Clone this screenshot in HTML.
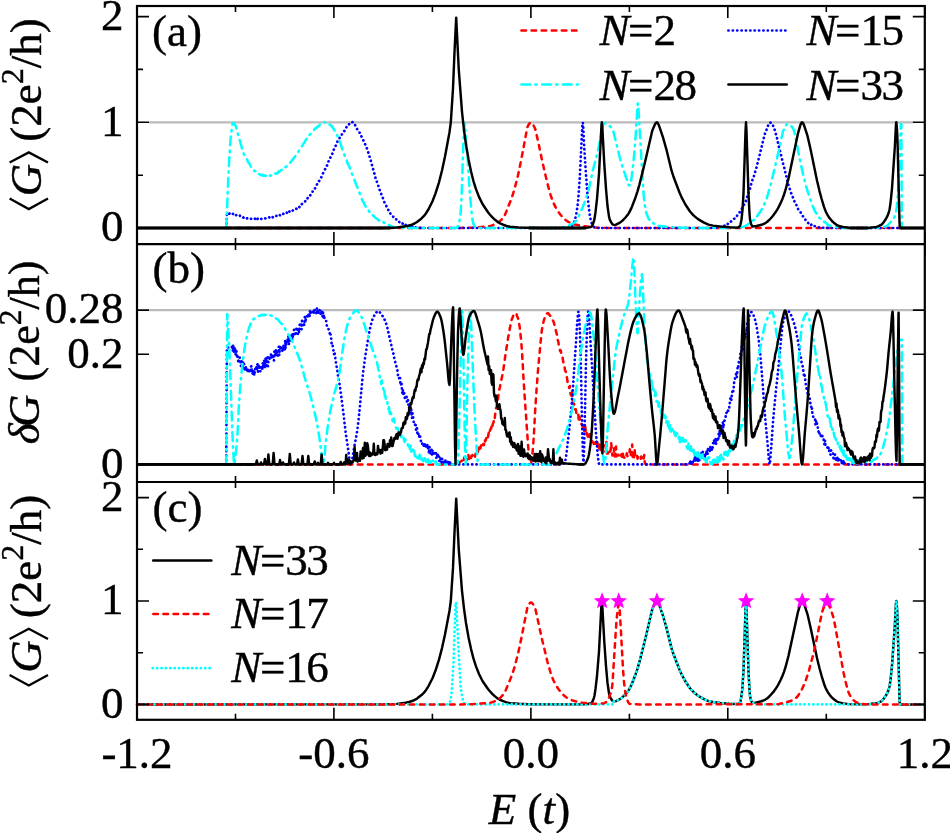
<!DOCTYPE html>
<html><head><meta charset="utf-8"><style>
html,body{margin:0;padding:0;background:#fff;}
svg{display:block;will-change:transform;}
text{font-family:"Liberation Serif",serif;stroke:#000;stroke-width:0.4px;}
</style></head><body>
<svg width="950" height="833" viewBox="0 0 950 833">
<rect width="950" height="833" fill="#fff"/>
<line x1="149.0" y1="122.3" x2="912.8" y2="122.3" stroke="#bbb" stroke-width="2.2"/>
<line x1="149.0" y1="310.1" x2="912.8" y2="310.1" stroke="#bbb" stroke-width="2.2"/>
<path d="M226.50,228.00L460.50,227.91L473.00,227.66L488.00,226.42L490.00,226.13L492.00,225.55L495.50,223.95L499.00,221.83L501.50,219.60L503.50,217.19L504.50,215.70L505.50,213.66L511.00,199.68L513.00,194.00L514.50,189.05L518.00,175.37L521.50,158.49L526.50,131.67L527.50,127.07L528.00,125.75L529.50,123.46L530.50,122.62L531.00,122.50L532.00,123.02L533.00,124.39L534.80,128.00L535.50,130.00L538.50,143.21L542.00,160.27L547.50,183.78L550.50,194.56L552.00,199.16L553.50,203.00L555.50,207.14L558.00,211.40L560.50,214.76L563.50,218.15L565.50,219.96L568.00,221.58L571.50,223.27L575.00,224.49L581.50,225.81L594.00,227.41L599.00,227.77L609.50,227.97L901.50,228.00" stroke="#ff0000" stroke-width="2.5" fill="none" stroke-dasharray="4.6,5.5" stroke-linecap="round" stroke-linejoin="round"/>
<path d="M226.40,228.00L226.90,215.00L227.40,213.36L227.60,213.20L227.90,213.25L228.40,213.46L228.90,213.67L229.00,214.14L229.60,213.36L230.20,214.13L230.80,214.01L231.40,214.32L232.00,213.70L232.60,213.79L233.20,214.01L233.80,214.97L234.40,214.32L235.00,214.74L235.60,215.30L236.20,215.14L236.80,214.75L237.40,215.17L238.00,215.01L238.60,215.42L239.20,215.65L239.80,215.56L240.40,216.68L241.00,216.96L241.60,216.76L242.20,217.10L242.80,217.26L243.40,217.52L244.00,218.05L244.60,217.75L245.20,217.40L245.80,218.11L246.40,218.20L247.00,218.48L247.60,218.38L248.20,218.07L248.80,217.85L249.40,218.38L250.00,218.66L250.60,218.86L251.20,218.86L251.80,218.85L252.40,218.91L253.00,218.56L253.60,218.78L254.20,218.85L254.80,218.46L255.40,219.49L256.00,218.54L256.60,219.51L257.20,219.31L257.80,218.66L258.40,218.78L259.00,218.61L259.60,218.97L260.20,218.27L260.80,218.63L261.40,218.93L262.00,218.52L262.60,218.63L263.20,218.33L263.80,218.47L264.40,218.64L265.00,218.35L265.60,218.51L266.20,218.36L266.80,217.90L267.40,217.72L268.00,217.94L268.60,217.83L269.20,217.33L269.80,217.57L270.40,217.20L271.00,217.74L271.60,216.80L272.20,216.89L272.80,217.24L273.40,216.70L274.00,216.33L274.60,216.16L275.20,216.57L275.80,216.37L276.40,215.84L277.00,215.69L277.60,215.77L278.20,216.00L278.80,215.61L279.40,214.78L280.00,215.24L280.60,215.41L281.20,214.64L281.80,214.96L282.40,214.79L283.00,213.85L283.60,213.79L284.20,213.44L284.80,213.53L285.40,213.52L286.00,213.40L286.60,212.41L287.20,213.14L287.80,211.97L288.40,212.68L289.00,211.96L289.60,211.28L290.20,210.99L290.80,210.89L291.40,210.53L292.00,211.32L292.60,210.69L293.20,210.06L293.80,209.64L294.40,209.90L295.00,209.44L295.60,208.90L296.20,208.73L296.80,208.91L297.40,207.77L298.00,208.23L298.60,207.91L299.20,207.39L299.80,206.07L300.40,206.29L301.00,205.63L301.60,204.36L302.20,203.88L302.80,203.57L303.40,203.03L304.00,202.68L304.60,201.99L305.20,201.31L305.80,200.22L306.40,200.34L307.00,199.54L307.60,198.12L308.20,198.09L308.80,197.23L309.40,195.95L310.00,195.75L310.60,194.75L311.20,193.88L311.80,192.79L312.40,191.59L313.00,191.69L313.60,190.79L314.20,189.48L314.80,188.62L315.40,187.81L316.00,185.93L316.60,185.14L317.20,183.94L317.80,183.87L318.40,182.25L319.00,181.07L319.60,180.40L320.20,178.95L320.80,177.86L321.40,177.16L322.00,175.61L322.60,174.18L323.20,173.00L323.80,172.02L324.40,170.55L325.00,169.41L325.60,168.31L326.20,166.76L326.80,165.82L327.40,164.82L328.00,163.47L328.60,161.20L329.20,160.59L329.80,158.85L330.40,157.66L331.00,155.77L331.60,155.41L332.20,153.93L332.80,152.65L333.40,150.37L334.00,149.25L334.60,147.99L335.20,146.61L335.80,145.69L336.40,144.15L337.00,143.18L337.60,141.01L338.20,140.04L338.80,138.76L339.40,138.46L340.00,137.39L340.60,136.25L341.20,134.85L341.80,134.61L342.40,133.67L343.00,132.97L343.60,131.78L344.20,131.12L344.80,130.48L345.40,129.52L346.00,128.50L346.60,126.66L347.20,126.61L347.80,125.28L348.40,124.67L349.00,124.24L349.60,123.90L350.20,123.38L350.80,122.41L351.40,122.75L352.00,122.34L352.60,122.07L353.20,123.41L353.80,123.64L354.40,124.14L355.00,124.85L355.60,126.21L356.20,127.32L356.80,128.64L357.40,129.47L358.00,130.22L358.60,131.05L359.20,131.54L359.80,133.23L360.40,133.81L361.00,135.22L361.60,136.91L362.20,137.88L362.80,138.72L363.40,140.54L364.00,141.51L364.60,143.39L365.20,144.31L365.80,146.11L366.40,147.35L367.00,148.62L367.60,150.24L368.20,152.22L368.80,154.76L369.40,156.14L370.00,158.32L370.60,159.92L371.20,162.31L371.80,164.57L372.40,166.86L373.00,168.74L373.60,170.66L374.20,172.87L374.80,174.82L375.40,177.60L376.00,179.40L376.60,181.18L377.20,182.45L377.80,184.01L378.40,186.34L379.00,187.68L379.60,189.88L380.20,190.85L380.80,192.81L381.40,194.72L382.00,195.92L382.60,197.61L383.20,198.75L383.80,200.35L384.40,202.29L385.00,203.66L385.60,204.90L386.20,205.74L386.80,207.36L387.40,208.33L388.00,208.97L388.60,210.82L389.20,211.01L389.80,212.20L390.40,213.55L391.00,214.11L391.60,215.22L392.20,216.00L392.80,216.22L393.40,216.93L394.00,217.77L394.60,218.59L395.20,218.56L395.80,219.42L396.40,219.30L397.00,219.91L397.60,220.21L398.20,220.83L398.80,221.16L399.40,222.23L400.00,222.04L400.60,222.12L401.20,222.49L401.80,223.64L402.40,223.34L403.00,224.10L403.60,223.80L404.20,224.05L404.80,224.85L405.40,224.44L406.00,225.41L406.60,225.28L407.20,224.93L407.80,225.76L408.40,225.87L409.00,225.83L409.60,226.33L410.20,225.88L410.80,226.58L411.40,227.16L412.00,226.25L412.60,227.14L413.20,227.03L413.80,227.56L414.40,226.94L415.40,227.34L415.90,227.40L416.40,227.45L416.90,227.51L417.40,227.56L417.90,227.61L418.40,227.65L418.90,227.70L419.40,227.74L419.90,227.78L420.40,227.82L420.90,227.85L421.40,227.89L421.90,227.91L422.40,227.94L422.90,227.96L423.40,227.98L423.90,227.99L424.40,228.00L424.90,228.00L425.00,228.00L425.40,228.00L425.90,228.00L426.40,228.00L426.90,228.00L427.40,228.00L427.90,228.00L428.40,228.00L428.90,228.00L429.40,228.00L429.90,228.00L430.40,228.00L430.90,228.00L431.40,228.00L431.90,228.00L432.40,228.00L432.90,228.00L433.40,228.00L433.90,228.00L434.40,228.00L434.90,228.00L435.40,228.00L435.90,228.00L436.40,228.00L436.90,228.00L437.40,228.00L437.90,228.00L438.40,228.00L438.90,228.00L439.40,228.00L439.90,228.00L440.40,228.00L440.90,228.00L441.40,228.00L441.90,228.00L442.40,228.00L442.90,228.00L443.40,228.00L443.90,228.00L444.40,228.00L444.90,228.00L445.40,228.00L445.90,228.00L446.40,228.00L446.90,228.00L447.40,228.00L447.90,228.00L448.40,228.00L448.90,228.00L449.40,228.00L449.90,228.00L450.40,228.00L450.90,228.00L451.40,228.00L451.90,228.00L452.40,228.00L452.90,228.00L453.40,228.00L453.90,228.00L454.40,228.00L454.90,228.00L455.40,228.00L455.90,228.00L456.40,228.00L456.90,228.00L457.40,228.00L457.90,228.00L458.40,228.00L458.90,228.00L459.40,228.00L459.90,228.00L460.40,228.00L460.90,228.00L461.40,228.00L461.90,228.00L462.40,228.00L462.90,228.00L463.40,228.00L463.90,228.00L464.40,228.00L464.90,228.00L465.40,228.00L465.90,228.00L466.40,228.00L466.90,228.00L467.40,228.00L467.90,228.00L468.40,228.00L468.90,228.00L469.40,228.00L469.90,228.00L470.40,228.00L470.90,228.00L471.40,228.00L471.90,228.00L472.40,228.00L472.90,228.00L473.40,228.00L473.90,228.00L474.40,228.00L474.90,228.00L475.40,228.00L475.90,228.00L476.40,228.00L476.90,228.00L477.40,228.00L477.90,228.00L478.40,228.00L478.90,228.00L479.40,228.00L479.90,228.00L480.40,228.00L480.90,228.00L481.40,228.00L481.90,228.00L482.40,228.00L482.90,228.00L483.40,228.00L483.90,228.00L484.40,228.00L484.90,228.00L485.40,228.00L485.90,228.00L486.40,228.00L486.90,228.00L487.40,228.00L487.90,228.00L488.40,228.00L488.90,228.00L489.40,228.00L489.90,228.00L490.40,228.00L490.90,228.00L491.40,228.00L491.90,228.00L492.40,228.00L492.90,228.00L493.40,228.00L493.90,228.00L494.40,228.00L494.90,228.00L495.40,228.00L495.90,228.00L496.40,228.00L496.90,228.00L497.40,228.00L497.90,228.00L498.40,228.00L498.90,228.00L499.40,228.00L499.90,228.00L500.40,228.00L500.90,228.00L501.40,228.00L501.90,228.00L502.40,228.00L502.90,228.00L503.40,228.00L503.90,228.00L504.40,228.00L504.90,228.00L505.40,228.00L505.90,228.00L506.40,228.00L506.90,228.00L507.40,228.00L507.90,228.00L508.40,228.00L508.90,228.00L509.40,228.00L509.90,228.00L510.40,228.00L510.90,228.00L511.40,228.00L511.90,228.00L512.40,228.00L512.90,228.00L513.40,228.00L513.90,228.00L514.40,228.00L514.90,228.00L515.40,228.00L515.90,228.00L516.40,228.00L516.90,228.00L517.40,228.00L517.90,228.00L518.40,228.00L518.90,228.00L519.40,228.00L519.90,228.00L520.40,228.00L520.90,228.00L521.40,228.00L521.90,228.00L522.40,228.00L522.90,228.00L523.40,228.00L523.90,228.00L524.40,228.00L524.90,228.00L525.40,228.00L525.90,228.00L526.40,228.00L526.90,228.00L527.40,228.00L527.90,228.00L528.40,228.00L528.90,228.00L529.40,228.00L529.90,228.00L530.40,228.00L530.90,228.00L531.40,228.00L531.90,228.00L532.40,228.00L532.90,228.00L533.40,228.00L533.90,228.00L534.40,228.00L534.90,228.00L535.40,228.00L535.90,228.00L536.40,228.00L536.90,228.00L537.40,228.00L537.90,228.00L538.40,228.00L538.90,228.00L539.40,228.00L539.90,228.00L540.40,228.00L540.90,228.00L541.40,228.00L541.90,228.00L542.40,228.00L542.90,228.00L543.40,228.00L543.90,228.00L544.40,228.00L544.90,228.00L545.40,228.00L545.90,228.00L546.40,228.00L546.90,228.00L547.40,228.00L547.90,228.00L548.40,228.00L548.90,228.00L549.40,228.00L549.90,228.00L550.40,228.00L550.90,228.00L551.40,228.00L551.90,228.00L552.40,228.00L552.90,228.00L553.40,228.00L553.90,228.00L554.40,228.00L554.90,228.00L555.40,228.00L555.90,228.00L556.40,228.00L556.90,228.00L557.40,228.00L557.90,228.00L558.40,228.00L558.90,228.00L559.40,228.00L559.90,228.00L560.40,228.00L560.90,228.00L561.40,228.00L561.90,228.00L562.40,228.00L562.90,228.00L563.40,228.00L563.90,228.00L564.40,228.00L564.90,228.00L565.00,228.00L565.40,228.00L565.90,227.99L566.40,227.97L566.90,227.94L567.40,227.90L567.90,227.86L568.40,227.81L568.90,227.75L569.40,227.69L569.90,227.62L570.00,227.60L570.40,227.48L570.90,227.16L571.40,226.68L571.90,226.06L572.40,225.30L572.90,224.42L573.40,223.44L573.90,222.37L574.40,221.23L574.50,221.00L574.90,219.90L575.40,218.11L575.90,215.86L576.40,213.20L576.90,210.15L577.40,206.73L577.50,206.00L577.90,202.56L578.40,197.00L578.90,190.35L579.40,182.95L579.75,177.50L579.90,174.99L580.40,165.10L580.90,154.39L581.25,147.50L581.40,144.59L581.90,133.69L582.40,124.81L582.75,122.50L582.90,122.98L583.40,129.96L583.90,140.75L584.25,147.50L584.40,149.91L584.90,157.94L585.40,165.82L585.90,173.29L586.20,177.50L586.40,180.23L586.90,186.98L587.40,193.40L587.90,199.13L588.30,203.00L588.40,203.87L588.90,208.11L589.40,212.07L589.90,215.59L590.40,218.50L590.90,220.67L591.00,221.00L591.40,222.20L591.90,223.58L592.40,224.78L592.90,225.76L593.40,226.50L593.90,226.95L594.00,227.00L594.40,227.18L594.90,227.38L595.40,227.55L595.90,227.70L596.40,227.83L596.90,227.92L597.40,227.97L597.90,228.00L598.00,228.00L598.40,228.00L598.90,228.00L599.40,228.00L599.90,228.00L600.40,228.00L600.90,228.00L601.40,228.00L601.90,228.00L602.40,228.00L602.90,228.00L603.40,228.00L603.90,228.00L604.40,228.00L604.90,228.00L605.40,228.00L605.90,228.00L606.40,228.00L606.90,228.00L607.40,228.00L607.90,228.00L608.40,228.00L608.90,228.00L609.40,228.00L609.90,228.00L610.40,228.00L610.90,228.00L611.40,228.00L611.90,228.00L612.40,228.00L612.90,228.00L613.40,228.00L613.90,228.00L614.40,228.00L614.90,228.00L615.40,228.00L615.90,228.00L616.40,228.00L616.90,228.00L617.40,228.00L617.90,228.00L618.40,228.00L618.90,228.00L619.40,228.00L619.90,228.00L620.40,228.00L620.90,228.00L621.40,228.00L621.90,228.00L622.40,228.00L622.90,228.00L623.40,228.00L623.90,228.00L624.40,228.00L624.90,228.00L625.40,228.00L625.90,228.00L626.40,228.00L626.90,228.00L627.40,228.00L627.90,228.00L628.40,228.00L628.90,228.00L629.40,228.00L629.90,228.00L630.40,228.00L630.90,228.00L631.40,228.00L631.90,228.00L632.40,228.00L632.90,228.00L633.40,228.00L633.90,228.00L634.40,228.00L634.90,228.00L635.40,228.00L635.90,228.00L636.40,228.00L636.90,228.00L637.40,228.00L637.90,228.00L638.40,228.00L638.90,228.00L639.40,228.00L639.90,228.00L640.40,228.00L640.90,228.00L641.40,228.00L641.90,228.00L642.40,228.00L642.90,228.00L643.40,228.00L643.90,228.00L644.40,228.00L644.90,228.00L645.40,228.00L645.90,228.00L646.40,228.00L646.90,228.00L647.40,228.00L647.90,228.00L648.40,228.00L648.90,228.00L649.40,228.00L649.90,228.00L650.40,228.00L650.90,228.00L651.40,228.00L651.90,228.00L652.40,228.00L652.90,228.00L653.40,228.00L653.90,228.00L654.40,228.00L654.90,228.00L655.40,228.00L655.90,228.00L656.40,228.00L656.90,228.00L657.40,228.00L657.90,228.00L658.40,228.00L658.90,228.00L659.40,228.00L659.90,228.00L660.40,228.00L660.90,228.00L661.40,228.00L661.90,228.00L662.40,228.00L662.90,228.00L663.40,228.00L663.90,228.00L664.40,228.00L664.90,228.00L665.40,228.00L665.90,228.00L666.40,228.00L666.90,228.00L667.40,228.00L667.90,228.00L668.40,228.00L668.90,228.00L669.40,228.00L669.90,228.00L670.40,228.00L670.90,228.00L671.40,228.00L671.90,228.00L672.40,228.00L672.90,228.00L673.40,228.00L673.90,228.00L674.40,228.00L674.90,228.00L675.40,228.00L675.90,228.00L676.40,228.00L676.90,228.00L677.40,228.00L677.90,228.00L678.40,228.00L678.90,228.00L679.40,228.00L679.90,228.00L680.40,228.00L680.90,228.00L681.40,228.00L681.90,228.00L682.40,228.00L682.90,228.00L683.40,228.00L683.90,228.00L684.40,228.00L684.90,228.00L685.40,228.00L685.90,228.00L686.40,228.00L686.90,228.00L687.40,228.00L687.90,228.00L688.40,228.00L688.90,228.00L689.40,228.00L689.90,228.00L690.40,228.00L690.90,228.00L691.40,228.00L691.90,228.00L692.40,228.00L692.90,228.00L693.40,228.00L693.90,228.00L694.40,228.00L694.90,228.00L695.40,228.00L695.90,228.00L696.40,228.00L696.90,228.00L697.40,228.00L697.90,228.00L698.40,228.00L698.90,228.00L699.40,228.00L699.90,228.00L700.40,228.00L700.90,228.00L701.40,228.00L701.90,228.00L702.40,228.00L702.90,228.00L703.40,228.00L703.90,228.00L704.40,228.00L704.90,228.00L705.40,228.00L705.90,228.00L706.40,228.00L706.90,228.00L707.40,228.00L707.90,228.00L708.40,228.00L708.90,228.00L709.40,228.00L709.90,228.00L710.40,228.00L710.90,228.00L711.40,228.00L711.90,228.00L712.00,228.00L712.40,228.00L712.90,227.98L713.40,227.96L713.90,227.93L714.40,227.90L714.90,227.85L715.40,227.80L715.90,227.74L716.40,227.67L716.90,227.60L717.40,227.52L717.90,227.43L718.40,227.34L718.90,227.25L719.40,227.15L719.90,227.05L720.40,226.95L720.90,226.84L721.40,226.73L721.90,226.62L722.00,226.60L722.40,226.50L722.90,226.36L723.40,226.19L723.90,226.00L724.40,225.79L724.90,225.57L725.00,224.99L725.60,224.68L726.20,224.81L726.80,224.19L727.40,224.26L728.00,223.71L728.60,223.23L729.20,223.36L729.80,222.19L730.40,221.67L731.00,221.48L731.60,220.96L732.20,220.56L732.80,219.99L733.40,219.14L734.00,218.78L734.60,218.60L735.20,217.17L735.80,216.73L736.40,216.11L737.00,215.87L737.60,214.67L738.20,214.05L738.80,213.08L739.40,212.36L740.00,212.15L740.60,211.32L741.20,210.15L741.80,208.81L742.40,207.62L743.00,206.69L743.60,205.49L744.20,204.43L744.80,202.88L745.40,202.26L746.00,200.63L746.60,199.27L747.20,196.77L747.80,195.20L748.40,193.43L749.00,191.14L749.60,189.71L750.20,188.09L750.80,185.42L751.40,183.53L752.00,181.34L752.60,179.58L753.20,178.44L753.80,176.51L754.40,174.64L755.00,172.34L755.60,170.86L756.20,168.74L756.80,165.88L757.40,163.85L758.00,161.61L758.60,159.20L759.20,156.87L759.80,154.40L760.40,151.32L761.00,149.65L761.60,146.89L762.20,144.76L762.80,141.91L763.40,140.33L764.00,137.08L764.60,135.11L765.20,132.82L765.80,131.47L766.40,130.39L767.00,127.89L767.60,127.14L768.20,125.03L768.80,124.13L769.40,122.79L770.00,122.73L770.60,122.71L771.20,123.19L771.80,123.14L772.40,124.45L773.00,125.65L773.60,127.25L774.20,128.83L774.80,130.14L775.40,132.37L776.00,134.66L776.60,136.25L777.20,138.90L777.80,142.04L778.40,144.57L779.00,147.10L779.60,149.65L780.20,151.40L780.80,154.41L781.40,156.32L782.00,159.21L782.60,161.35L783.20,164.28L783.80,166.49L784.40,168.14L785.00,170.64L785.60,174.17L786.20,175.82L786.80,178.73L787.40,180.60L788.00,183.04L788.60,185.49L789.20,186.77L789.80,188.95L790.40,190.62L791.00,192.63L791.60,194.43L792.20,195.60L792.80,197.10L793.40,198.54L794.00,199.95L794.60,201.98L795.20,203.01L795.80,204.27L796.40,205.04L797.00,206.16L797.60,208.11L798.20,209.34L798.80,210.13L799.40,210.79L800.00,211.85L800.60,212.49L801.20,213.53L801.80,215.24L802.40,215.96L803.00,216.33L803.60,217.31L804.20,218.50L804.80,219.22L805.40,219.66L806.00,220.38L806.60,221.23L807.20,221.44L807.80,222.24L808.40,223.31L809.00,223.52L809.60,224.25L810.20,223.98L810.80,225.02L811.40,224.75L812.00,224.79L812.60,225.87L813.20,225.94L813.80,225.53L814.40,225.98L815.40,226.53L815.90,226.69L816.40,226.83L816.90,226.96L817.40,227.08L817.90,227.19L818.40,227.29L818.90,227.37L819.40,227.44L819.90,227.49L820.00,227.50L820.40,227.53L820.90,227.58L821.40,227.62L821.90,227.66L822.40,227.69L822.90,227.73L823.40,227.76L823.90,227.80L824.40,227.83L824.90,227.85L825.40,227.88L825.90,227.90L826.40,227.92L826.90,227.94L827.40,227.96L827.90,227.97L828.40,227.98L828.90,227.99L829.40,228.00L829.90,228.00L830.00,228.00L830.40,228.00L830.90,228.00L831.40,228.00L831.90,228.00L832.40,228.00L832.90,228.00L833.40,228.00L833.90,228.00L834.40,228.00L834.90,228.00L835.40,228.00L835.90,228.00L836.40,228.00L836.90,228.00L837.40,228.00L837.90,228.00L838.40,228.00L838.90,228.00L839.40,228.00L839.90,228.00L840.40,228.00L840.90,228.00L841.40,228.00L841.90,228.00L842.40,228.00L842.90,228.00L843.40,228.00L843.90,228.00L844.40,228.00L844.90,228.00L845.40,228.00L845.90,228.00L846.40,228.00L846.90,228.00L847.40,228.00L847.90,228.00L848.40,228.00L848.90,228.00L849.40,228.00L849.90,228.00L850.40,228.00L850.90,228.00L851.40,228.00L851.90,228.00L852.40,228.00L852.90,228.00L853.40,228.00L853.90,228.00L854.40,228.00L854.90,228.00L855.40,228.00L855.90,228.00L856.40,228.00L856.90,228.00L857.40,228.00L857.90,228.00L858.40,228.00L858.90,228.00L859.40,228.00L859.90,228.00L860.40,228.00L860.90,228.00L861.40,228.00L861.90,228.00L862.40,228.00L862.90,228.00L863.40,228.00L863.90,228.00L864.40,228.00L864.90,228.00L865.40,228.00L865.90,228.00L866.40,228.00L866.90,228.00L867.40,228.00L867.90,228.00L868.40,228.00L868.90,228.00L869.40,228.00L869.90,228.00L870.40,228.00L870.90,228.00L871.40,228.00L871.90,228.00L872.40,228.00L872.90,228.00L873.40,228.00L873.90,228.00L874.40,228.00L874.90,228.00L875.40,228.00L875.90,228.00L876.40,228.00L876.90,228.00L877.40,228.00L877.90,228.00L878.40,228.00L878.90,228.00L879.40,228.00L879.90,228.00L880.40,228.00L880.90,228.00L881.40,228.00L881.90,228.00L882.40,228.00L882.90,228.00L883.40,228.00L883.90,228.00L884.40,228.00L884.90,228.00L885.40,228.00L885.90,228.00L886.40,228.00L886.90,228.00L887.40,228.00L887.90,228.00L888.40,228.00L888.90,228.00L889.40,228.00L889.90,228.00L890.40,228.00L890.90,228.00L891.40,228.00L891.90,228.00L892.40,228.00L892.90,228.00L893.40,228.00L893.90,228.00L894.40,228.00L894.90,228.00L895.40,228.00L895.90,228.00L896.40,228.00L896.90,228.00L897.40,228.00L897.90,228.00L898.40,228.00L898.90,228.00L899.40,228.00L899.90,228.00L900.40,228.00L900.90,228.00L901.40,228.00L901.50,228.00" stroke="#0000ff" stroke-width="2.7" fill="none" stroke-dasharray="0.2,4.17" stroke-linecap="round" stroke-linejoin="round"/>
<path d="M226.30,228.00L226.80,215.00L227.20,205.00L227.30,202.53L227.80,190.03L228.30,178.03L228.60,171.50L228.80,167.48L229.30,158.23L229.60,153.20L229.80,149.97L230.30,142.44L230.60,138.80L230.80,136.85L231.30,132.84L231.40,132.10L231.80,128.78L232.30,124.80L232.80,123.00L233.30,123.12L233.80,123.44L234.30,123.93L234.80,124.55L235.30,125.25L235.40,125.40L235.80,126.27L236.00,126.60L236.60,129.25L237.20,131.58L237.80,133.82L238.40,136.05L239.00,138.09L239.60,139.89L240.20,141.59L240.80,144.11L241.40,146.25L242.00,148.44L242.60,150.62L243.20,152.25L243.80,153.99L244.40,154.77L245.00,156.12L245.60,157.14L246.20,158.03L246.80,159.03L247.40,160.29L248.00,161.69L248.60,162.98L249.20,163.05L249.80,164.45L250.40,165.74L251.00,166.84L251.60,166.99L252.20,167.81L252.80,168.74L253.40,169.68L254.00,170.37L254.60,171.14L255.20,171.11L255.80,172.46L256.40,172.62L257.00,172.88L257.60,173.67L258.20,173.43L258.80,173.60L259.40,174.33L260.00,174.66L260.60,174.82L261.20,175.19L261.80,174.64L262.40,175.61L263.00,175.07L263.60,175.51L264.20,175.24L264.80,175.58L265.40,176.08L266.00,175.54L266.60,176.24L267.20,175.78L267.80,176.23L268.40,175.78L269.00,175.62L269.60,175.97L270.20,175.33L270.80,175.72L271.40,175.03L272.00,174.96L272.60,175.17L273.20,174.62L273.80,174.79L274.40,173.96L275.00,173.70L275.60,173.33L276.20,173.75L276.80,173.39L277.40,173.03L278.00,172.81L278.60,171.56L279.20,171.99L279.80,170.85L280.40,170.60L281.00,170.07L281.60,169.75L282.20,169.21L282.80,169.64L283.40,168.53L284.00,168.37L284.60,167.99L285.20,167.20L285.80,166.84L286.40,166.46L287.00,166.18L287.60,165.16L288.20,164.41L288.80,164.35L289.40,163.39L290.00,162.71L290.60,162.30L291.20,161.59L291.80,160.56L292.40,159.79L293.00,159.45L293.60,158.58L294.20,157.15L294.80,157.00L295.40,155.72L296.00,154.91L296.60,154.56L297.20,153.71L297.80,153.07L298.40,151.90L299.00,150.53L299.60,149.46L300.20,148.61L300.80,147.57L301.40,146.83L302.00,146.17L302.60,145.33L303.20,143.95L303.80,143.25L304.40,142.62L305.00,141.34L305.60,140.29L306.20,139.38L306.80,138.44L307.40,137.77L308.00,137.53L308.60,136.44L309.20,135.13L309.80,134.63L310.40,134.02L311.00,133.23L311.60,132.15L312.20,131.65L312.80,131.03L313.40,130.46L314.00,129.97L314.60,129.02L315.20,128.68L315.80,128.12L316.40,128.13L317.00,126.77L317.60,126.86L318.20,126.24L318.80,126.13L319.40,125.55L320.00,124.17L320.60,123.68L321.20,123.75L321.80,122.95L322.40,122.67L323.00,122.47L323.60,122.50L324.20,122.25L324.80,121.97L325.40,122.67L326.00,122.77L326.60,122.53L327.20,122.53L327.80,122.91L328.40,122.93L329.00,123.57L329.60,124.67L330.20,124.78L330.80,124.97L331.40,126.36L332.00,126.17L332.60,126.98L333.20,128.40L333.80,129.12L334.40,130.46L335.00,131.09L335.60,132.85L336.20,133.87L336.80,134.65L337.40,135.82L338.00,137.04L338.60,138.73L339.20,139.31L339.80,141.30L340.40,143.09L341.00,145.02L341.60,146.89L342.20,148.95L342.80,150.16L343.40,151.89L344.00,153.88L344.60,155.23L345.20,157.15L345.80,159.11L346.40,159.91L347.00,161.18L347.60,163.45L348.20,164.15L348.80,165.54L349.40,166.83L350.00,168.36L350.60,170.62L351.20,171.84L351.80,173.24L352.40,174.46L353.00,176.19L353.60,177.37L354.20,179.28L354.80,180.61L355.40,182.66L356.00,183.96L356.60,185.87L357.20,186.53L357.80,188.76L358.40,190.33L359.00,191.54L359.60,193.17L360.20,195.09L360.80,196.23L361.40,198.05L362.00,199.27L362.60,200.93L363.20,201.53L363.80,202.78L364.40,204.15L365.00,204.95L365.60,206.44L366.20,207.00L366.80,208.48L367.40,208.84L368.00,210.14L368.60,210.38L369.20,211.69L369.80,211.81L370.40,213.38L371.00,213.84L371.60,214.64L372.20,214.44L372.80,215.21L373.40,215.88L374.00,216.30L374.60,217.09L375.20,217.58L375.80,217.96L376.40,218.31L377.00,218.77L377.60,219.07L378.20,220.15L378.80,220.12L379.40,220.46L380.00,220.17L380.60,220.75L381.20,221.36L381.80,221.02L382.40,221.27L383.00,221.75L383.60,222.57L384.20,222.83L384.80,222.67L385.40,223.45L386.00,223.84L386.60,224.28L387.20,224.59L387.80,224.67L388.40,225.31L389.00,224.85L389.60,225.20L390.30,225.89L390.80,226.10L391.30,226.28L391.80,226.44L392.00,226.50L392.30,226.58L392.80,226.71L393.30,226.85L393.80,226.97L394.30,227.10L394.80,227.21L395.30,227.32L395.80,227.43L396.30,227.52L396.80,227.60L397.30,227.67L397.80,227.73L398.30,227.77L398.80,227.79L399.00,227.80L399.30,227.81L399.80,227.82L400.30,227.83L400.80,227.84L401.30,227.85L401.80,227.85L402.30,227.86L402.80,227.87L403.30,227.88L403.80,227.89L404.30,227.89L404.80,227.90L405.30,227.91L405.80,227.92L406.30,227.92L406.80,227.93L407.30,227.93L407.80,227.94L408.30,227.94L408.80,227.95L409.30,227.95L409.80,227.96L410.30,227.96L410.80,227.97L411.30,227.97L411.80,227.97L412.30,227.98L412.80,227.98L413.30,227.98L413.80,227.99L414.30,227.99L414.80,227.99L415.30,227.99L415.80,227.99L416.30,228.00L416.80,228.00L417.30,228.00L417.80,228.00L418.30,228.00L418.80,228.00L419.30,228.00L419.80,228.00L420.00,228.00L420.30,228.00L420.80,228.00L421.30,228.00L421.80,228.00L422.30,228.00L422.80,228.00L423.30,228.00L423.80,228.00L424.30,228.00L424.80,228.00L425.30,228.00L425.80,228.00L426.30,228.00L426.80,228.00L427.30,228.00L427.80,228.00L428.30,228.00L428.80,228.00L429.30,228.00L429.80,228.00L430.30,228.00L430.80,228.00L431.30,228.00L431.80,228.00L432.30,228.00L432.80,228.00L433.30,228.00L433.80,228.00L434.30,228.00L434.80,228.00L435.30,228.00L435.80,228.00L436.30,228.00L436.80,228.00L437.30,228.00L437.80,228.00L438.30,228.00L438.80,228.00L439.30,228.00L439.80,228.00L440.30,228.00L440.80,228.00L441.30,228.00L441.80,228.00L442.30,228.00L442.80,228.00L443.30,228.00L443.80,228.00L444.30,228.00L444.80,228.00L445.30,228.00L445.80,228.00L446.30,228.00L446.80,228.00L447.30,228.00L447.80,228.00L448.30,228.00L448.80,228.00L449.30,228.00L449.80,228.00L450.30,228.00L450.80,228.00L451.30,228.00L451.80,228.00L452.00,228.00L452.30,228.00L452.80,227.99L453.30,227.99L453.80,227.97L454.30,227.96L454.80,227.93L455.30,227.91L455.80,227.88L456.30,227.84L456.80,227.80L457.30,227.50L457.80,226.70L458.30,225.44L458.80,223.73L459.30,221.60L459.80,219.08L460.30,216.20L460.80,210.50L461.30,200.81L461.80,189.05L462.10,181.80L462.30,176.36L462.80,159.42L463.30,144.29L463.40,142.20L463.80,134.68L464.30,126.81L464.80,123.50L465.30,128.22L465.80,137.08L466.00,140.00L466.30,143.45L466.80,148.68L467.30,154.17L467.40,155.40L467.80,160.96L468.30,168.96L468.80,177.43L469.30,185.59L469.80,192.65L470.00,195.00L470.30,198.29L470.80,203.74L471.30,208.97L471.80,213.77L472.30,217.94L472.80,221.26L473.30,223.53L473.50,224.10L473.80,224.77L474.30,225.76L474.80,226.58L475.30,227.18L475.80,227.54L476.00,227.60L476.30,227.66L476.80,227.74L477.30,227.82L477.80,227.88L478.30,227.93L478.80,227.96L479.30,227.99L479.80,228.00L480.00,228.00L480.30,228.00L480.80,228.00L481.30,228.00L481.80,228.00L482.30,228.00L482.80,228.00L483.30,228.00L483.80,228.00L484.30,228.00L484.80,228.00L485.30,228.00L485.80,228.00L486.30,228.00L486.80,228.00L487.30,228.00L487.80,228.00L488.30,228.00L488.80,228.00L489.30,228.00L489.80,228.00L490.30,228.00L490.80,228.00L491.30,228.00L491.80,228.00L492.30,228.00L492.80,228.00L493.30,228.00L493.80,228.00L494.30,228.00L494.80,228.00L495.30,228.00L495.80,228.00L496.30,228.00L496.80,228.00L497.30,228.00L497.80,228.00L498.30,228.00L498.80,228.00L499.30,228.00L499.80,228.00L500.30,228.00L500.80,228.00L501.30,228.00L501.80,228.00L502.30,228.00L502.80,228.00L503.30,228.00L503.80,228.00L504.30,228.00L504.80,228.00L505.30,228.00L505.80,228.00L506.30,228.00L506.80,228.00L507.30,228.00L507.80,228.00L508.30,228.00L508.80,228.00L509.30,228.00L509.80,228.00L510.30,228.00L510.80,228.00L511.30,228.00L511.80,228.00L512.30,228.00L512.80,228.00L513.30,228.00L513.80,228.00L514.30,228.00L514.80,228.00L515.30,228.00L515.80,228.00L516.30,228.00L516.80,228.00L517.30,228.00L517.80,228.00L518.30,228.00L518.80,228.00L519.30,228.00L519.80,228.00L520.30,228.00L520.80,228.00L521.30,228.00L521.80,228.00L522.30,228.00L522.80,228.00L523.30,228.00L523.80,228.00L524.30,228.00L524.80,228.00L525.30,228.00L525.80,228.00L526.30,228.00L526.80,228.00L527.30,228.00L527.80,228.00L528.30,228.00L528.80,228.00L529.30,228.00L529.80,228.00L530.30,228.00L530.80,228.00L531.30,228.00L531.80,228.00L532.30,228.00L532.80,228.00L533.30,228.00L533.80,228.00L534.30,228.00L534.80,228.00L535.30,228.00L535.80,228.00L536.30,228.00L536.80,228.00L537.30,228.00L537.80,228.00L538.30,228.00L538.80,228.00L539.30,228.00L539.80,228.00L540.30,228.00L540.80,228.00L541.30,228.00L541.80,228.00L542.30,228.00L542.80,228.00L543.30,228.00L543.80,228.00L544.30,228.00L544.80,228.00L545.30,228.00L545.80,228.00L546.30,228.00L546.80,228.00L547.30,228.00L547.80,228.00L548.30,228.00L548.80,228.00L549.30,228.00L549.80,228.00L550.30,228.00L550.80,228.00L551.30,228.00L551.80,228.00L552.00,228.00L552.30,228.00L552.80,228.00L553.30,227.99L553.80,227.98L554.30,227.96L554.80,227.94L555.30,227.92L555.80,227.89L556.30,227.87L556.80,227.83L557.30,227.80L557.80,227.76L558.30,227.72L558.80,227.68L559.30,227.63L559.80,227.58L560.30,227.53L560.80,227.47L561.30,227.42L561.80,227.36L562.30,227.30L562.80,227.23L563.30,227.17L563.80,227.10L564.30,227.03L564.50,227.00L564.80,226.95L565.30,226.85L565.80,226.72L566.30,226.56L566.80,226.39L567.30,226.19L567.80,225.99L568.30,225.77L568.80,225.55L569.30,225.32L569.80,225.09L570.00,225.00L570.30,224.86L570.80,224.63L571.30,224.39L571.80,224.14L572.30,223.88L572.80,223.59L573.30,223.29L573.80,222.95L574.30,222.58L574.80,222.17L575.00,222.00L575.30,221.72L575.80,221.16L576.30,220.50L576.80,219.76L577.30,218.94L577.80,218.04L578.30,217.08L578.80,216.06L579.30,215.00L579.80,213.90L580.30,212.76L580.80,211.60L581.30,210.43L581.80,209.25L582.30,208.07L582.50,207.60L582.80,206.89L583.30,205.66L583.80,204.39L584.30,203.07L584.80,201.70L585.30,200.28L585.80,198.81L586.30,197.28L586.80,195.71L587.30,194.08L587.80,192.40L588.30,190.67L588.60,189.60L588.80,188.86L589.30,186.88L589.80,184.74L590.30,182.47L590.80,180.12L591.30,177.74L591.80,175.37L592.30,173.06L592.80,170.85L593.00,170.00L593.30,168.77L593.80,166.78L594.30,164.86L594.80,162.98L595.30,161.11L595.80,159.23L596.30,157.31L596.80,155.34L597.30,153.28L597.60,152.00L597.80,151.12L598.30,148.80L598.80,146.37L599.30,143.88L599.80,141.35L600.30,138.83L600.80,136.37L601.30,134.00L601.80,131.37L602.30,128.46L602.80,125.77L603.30,123.85L603.75,123.20L603.80,123.20L604.30,123.22L604.80,123.28L605.30,123.36L605.80,123.46L606.00,123.50L606.30,123.59L606.80,123.82L607.30,124.14L607.80,124.51L608.30,124.92L608.80,125.34L609.00,125.50L609.30,125.74L609.80,126.13L610.30,126.56L610.80,127.02L611.30,127.57L611.80,128.21L612.00,128.26L612.60,129.61L613.20,131.23L613.80,133.06L614.40,135.69L615.00,138.02L615.60,140.64L616.20,142.91L616.80,145.43L617.40,148.33L618.00,149.72L618.60,152.51L619.20,155.30L619.80,157.51L620.40,160.01L621.00,161.70L621.60,163.47L622.20,165.59L622.80,168.44L623.40,169.90L624.00,171.53L624.60,172.91L625.20,174.54L625.80,176.94L626.40,178.34L627.00,179.86L627.60,181.53L628.20,183.84L628.80,185.31L629.40,185.38L630.30,185.12L630.80,182.79L631.30,179.45L631.80,175.55L632.30,171.54L632.50,170.00L632.80,167.63L633.30,163.18L633.80,158.19L634.30,152.74L634.75,147.50L634.80,146.90L635.30,140.19L635.80,132.68L636.30,124.95L636.70,119.00L636.80,117.46L637.30,108.42L637.80,103.50L638.30,106.94L638.80,114.64L639.25,122.00L639.30,122.74L639.80,130.81L640.30,139.62L640.75,147.50L640.80,148.35L641.30,156.99L641.80,165.58L642.25,173.00L642.30,173.80L642.80,182.09L643.30,189.92L643.75,195.50L643.80,196.00L644.30,200.80L644.80,205.06L645.00,206.27L645.60,209.86L646.20,212.54L646.80,214.18L647.40,215.95L648.00,217.01L648.60,218.91L649.20,219.13L649.80,220.73L650.40,221.20L651.00,221.79L651.60,222.37L652.20,222.78L652.80,222.62L653.40,223.28L654.00,223.54L654.60,224.31L655.20,224.26L655.80,224.77L656.40,224.74L657.00,224.74L657.60,225.60L658.20,225.62L658.80,226.01L659.40,225.97L660.00,226.04L660.60,226.20L661.20,225.95L661.80,226.39L662.40,226.46L663.00,226.24L663.60,226.25L664.20,226.54L664.80,226.62L665.30,226.60L665.80,226.65L666.30,226.70L666.80,226.74L667.30,226.79L667.80,226.83L668.30,226.87L668.80,226.91L669.30,226.95L669.80,226.98L670.00,227.00L670.30,227.02L670.80,227.06L671.30,227.10L671.80,227.14L672.30,227.17L672.80,227.21L673.30,227.24L673.80,227.28L674.30,227.32L674.80,227.35L675.30,227.38L675.80,227.42L676.30,227.45L676.80,227.48L677.30,227.51L677.80,227.54L678.30,227.57L678.80,227.59L679.30,227.62L679.80,227.64L680.30,227.66L680.80,227.69L681.30,227.71L681.80,227.72L682.30,227.74L682.80,227.76L683.30,227.77L683.80,227.78L684.30,227.79L684.80,227.80L685.00,227.80L685.30,227.80L685.80,227.81L686.30,227.81L686.80,227.82L687.30,227.83L687.80,227.83L688.30,227.84L688.80,227.84L689.30,227.85L689.80,227.85L690.30,227.86L690.80,227.86L691.30,227.87L691.80,227.87L692.30,227.88L692.80,227.88L693.30,227.88L693.80,227.89L694.30,227.89L694.80,227.90L695.30,227.90L695.80,227.91L696.30,227.91L696.80,227.91L697.30,227.92L697.80,227.92L698.30,227.92L698.80,227.93L699.30,227.93L699.80,227.93L700.30,227.94L700.80,227.94L701.30,227.94L701.80,227.95L702.30,227.95L702.80,227.95L703.30,227.96L703.80,227.96L704.30,227.96L704.80,227.96L705.30,227.97L705.80,227.97L706.30,227.97L706.80,227.97L707.30,227.97L707.80,227.98L708.30,227.98L708.80,227.98L709.30,227.98L709.80,227.98L710.30,227.98L710.80,227.99L711.30,227.99L711.80,227.99L712.30,227.99L712.80,227.99L713.30,227.99L713.80,227.99L714.30,227.99L714.80,228.00L715.30,228.00L715.80,228.00L716.30,228.00L716.80,228.00L717.30,228.00L717.80,228.00L718.30,228.00L718.80,228.00L719.30,228.00L719.80,228.00L720.00,228.00L720.30,228.00L720.80,228.00L721.30,228.00L721.80,228.00L722.30,228.00L722.80,227.99L723.30,227.99L723.80,227.99L724.30,227.98L724.80,227.98L725.30,227.97L725.80,227.97L726.30,227.96L726.80,227.96L727.30,227.95L727.80,227.95L728.30,227.94L728.80,227.93L729.30,227.92L729.80,227.91L730.30,227.91L730.80,227.90L731.30,227.89L731.80,227.88L732.30,227.87L732.80,227.85L733.30,227.84L733.80,227.83L734.30,227.82L734.80,227.81L735.00,227.80L735.30,227.79L735.80,227.77L736.30,227.74L736.80,227.70L737.30,227.66L737.80,227.61L738.30,227.56L738.80,227.50L739.30,227.43L739.80,227.36L740.30,227.29L740.80,227.21L741.30,227.12L741.80,227.04L742.00,227.00L742.30,226.94L742.80,226.82L743.30,226.68L743.80,226.51L744.30,226.32L744.80,226.11L745.30,225.87L745.80,225.62L746.30,225.35L746.80,225.07L747.30,224.77L747.80,224.45L748.30,224.12L748.80,223.78L749.30,223.43L749.80,223.07L750.00,223.03L750.60,222.71L751.20,222.47L751.80,221.73L752.40,221.51L753.00,220.34L753.60,220.31L754.20,219.58L754.80,218.55L755.40,217.83L756.00,217.04L756.60,217.24L757.20,216.06L757.80,215.31L758.40,214.00L759.00,213.54L759.60,212.91L760.20,211.55L760.80,210.84L761.40,209.96L762.00,208.91L762.60,207.90L763.20,206.68L763.80,205.61L764.40,204.10L765.00,202.55L765.60,200.97L766.20,199.97L766.80,198.27L767.40,195.62L768.00,194.19L768.60,191.79L769.20,189.92L769.80,187.07L770.40,185.42L771.00,183.12L771.60,180.92L772.20,178.12L772.80,176.08L773.40,173.34L774.00,171.46L774.60,168.65L775.20,166.37L775.80,163.53L776.40,161.55L777.00,158.18L777.60,155.42L778.20,152.94L778.80,150.86L779.40,147.79L780.00,145.07L780.60,142.39L781.20,139.34L781.80,136.60L782.40,134.11L783.00,131.26L783.60,130.12L784.20,129.05L784.80,126.95L785.40,126.49L786.00,125.32L786.60,124.34L787.20,124.38L787.80,124.88L788.40,125.16L789.00,124.64L789.60,124.99L790.20,125.22L790.80,126.01L791.40,126.25L792.00,126.88L792.60,127.63L793.20,128.71L793.80,130.25L794.40,132.01L795.00,134.86L795.60,138.07L796.20,141.14L796.80,143.34L797.40,146.68L798.00,150.21L798.60,153.38L799.20,156.57L799.80,159.11L800.40,162.21L801.00,164.83L801.60,167.46L802.20,170.61L802.80,172.91L803.40,175.81L804.00,177.77L804.60,180.00L805.20,182.99L805.80,185.03L806.40,187.04L807.00,188.71L807.60,191.62L808.20,192.68L808.80,194.63L809.40,196.41L810.00,198.50L810.60,199.88L811.20,202.15L811.80,203.14L812.40,204.95L813.00,206.94L813.60,208.16L814.20,209.60L814.80,211.10L815.40,211.87L816.00,213.12L816.60,213.63L817.20,215.10L817.80,215.77L818.40,215.97L819.00,217.28L819.60,218.10L820.20,218.31L820.80,218.80L821.40,219.43L822.00,220.22L822.60,220.66L823.20,220.87L823.80,222.03L824.40,221.63L825.00,222.28L825.60,222.55L826.20,223.27L826.80,223.32L827.40,224.67L828.00,224.91L828.60,225.07L829.20,225.43L829.80,225.53L830.30,225.71L830.80,225.90L831.30,226.06L831.80,226.20L832.00,226.25L832.30,226.32L832.80,226.43L833.30,226.54L833.80,226.65L834.30,226.75L834.80,226.85L835.30,226.95L835.80,227.04L836.30,227.14L836.80,227.22L837.30,227.31L837.80,227.39L838.30,227.47L838.80,227.54L839.30,227.60L839.80,227.67L840.30,227.73L840.80,227.78L841.30,227.83L841.80,227.87L842.30,227.91L842.80,227.94L843.30,227.96L843.80,227.98L844.30,227.99L844.80,228.00L845.00,228.00L845.30,228.00L845.80,228.00L846.30,228.00L846.80,228.00L847.30,228.00L847.80,228.00L848.30,228.00L848.80,228.00L849.30,228.00L849.80,228.00L850.30,228.00L850.80,228.00L851.30,228.00L851.80,228.00L852.30,228.00L852.80,228.00L853.30,228.00L853.80,228.00L854.30,228.00L854.80,228.00L855.30,228.00L855.80,228.00L856.30,228.00L856.80,228.00L857.30,228.00L857.80,228.00L858.30,228.00L858.80,228.00L859.30,228.00L859.80,228.00L860.30,228.00L860.80,228.00L861.30,228.00L861.80,228.00L862.30,228.00L862.80,228.00L863.30,228.00L863.80,228.00L864.30,228.00L864.80,228.00L865.30,228.00L865.80,228.00L866.30,228.00L866.80,228.00L867.30,228.00L867.80,228.00L868.30,228.00L868.80,228.00L869.30,228.00L869.80,228.00L870.30,228.00L870.80,228.00L871.30,228.00L871.80,228.00L872.30,228.00L872.80,228.00L873.30,228.00L873.80,228.00L874.30,228.00L874.80,228.00L875.00,228.00L875.30,228.00L875.80,227.99L876.30,227.97L876.80,227.95L877.30,227.91L877.80,227.87L878.30,227.82L878.80,227.77L879.30,227.70L879.80,227.63L880.30,227.56L880.80,227.47L881.30,227.38L881.80,227.29L882.30,227.19L882.80,227.08L883.30,226.96L883.80,226.84L884.30,226.72L884.80,226.59L885.30,226.46L885.50,226.40L885.80,226.30L886.30,226.08L886.80,225.79L887.30,225.43L887.80,225.02L888.30,224.56L888.80,224.07L889.30,223.54L889.80,222.98L890.30,222.41L890.80,221.82L891.30,221.23L891.50,221.00L891.80,220.66L892.30,220.09L892.80,219.51L893.30,218.87L893.80,218.14L894.30,217.27L894.80,216.24L895.30,215.00L895.80,213.14L896.30,210.31L896.80,206.59L897.30,202.04L897.50,200.00L897.80,195.94L898.30,186.12L898.80,174.57L899.00,170.00L899.30,162.99L899.80,150.35L900.20,140.00L900.30,137.06L900.80,124.30L901.30,124.30L901.40,124.30L901.80,228.00" stroke="#00ffff" stroke-width="2.5" fill="none" stroke-dasharray="8.7,5.2,1.5,5.3" stroke-linecap="round" stroke-linejoin="round"/>
<path d="M137.00,228.00L385.00,227.94L397.00,227.45L405.50,226.33L409.00,225.52L412.00,224.55L414.50,223.50L417.00,222.05L421.50,218.45L424.00,215.95L425.50,214.09L428.50,209.26L432.50,201.19L435.50,193.37L439.00,182.27L442.00,170.45L445.00,156.46L449.50,132.19L450.80,122.30L453.00,88.48L454.60,50.00L456.20,17.66L458.75,69.45L462.00,111.87L464.00,130.05L466.00,144.81L468.50,159.31L471.00,171.21L473.50,181.30L476.00,189.14L479.00,196.85L482.50,204.04L488.00,212.26L490.00,214.76L492.50,217.41L495.00,219.81L497.50,221.82L499.50,223.03L502.50,224.47L506.50,225.99L510.00,226.73L518.50,227.43L528.50,227.77L543.00,228.00L581.50,227.99L588.00,227.65L590.50,227.11L591.50,226.60L592.00,225.94L593.00,223.87L594.00,221.02L594.50,218.90L595.50,212.15L597.00,198.96L599.00,173.93L601.50,124.70L601.80,122.30L602.00,123.17L602.50,130.69L604.20,162.47L606.00,188.95L607.50,206.01L609.00,216.57L609.50,218.80L610.50,221.23L612.00,223.74L613.00,224.65L614.50,224.93L616.00,224.67L620.00,222.65L622.50,220.60L625.50,217.52L627.50,215.08L629.00,212.87L631.50,207.88L635.00,198.78L637.50,191.36L639.50,184.35L646.00,158.03L652.00,131.72L652.75,129.49L655.00,124.20L656.00,122.72L656.80,122.30L657.50,122.69L658.00,123.39L659.00,125.59L663.00,137.35L666.50,149.82L671.50,170.45L673.50,176.75L679.50,192.53L682.00,198.13L685.40,204.53L690.00,211.48L693.50,215.34L698.00,219.09L704.00,222.65L708.50,224.60L713.00,225.61L720.00,226.48L729.50,227.34L735.50,227.65L738.00,227.60L739.50,226.49L740.00,225.89L740.50,224.60L741.50,219.48L742.50,210.00L743.50,193.32L745.50,131.44L746.00,122.30L746.50,131.32L748.50,194.29L749.50,213.30L750.00,219.39L751.00,223.85L752.00,226.11L752.50,226.41L756.50,225.98L761.50,224.78L765.00,223.29L767.00,222.01L769.50,219.70L773.00,215.78L775.50,212.34L778.00,208.27L780.50,203.37L782.50,198.69L784.00,194.70L785.50,189.97L788.50,178.39L798.00,133.37L800.50,124.62L801.50,122.59L802.00,122.30L802.50,122.50L803.00,123.07L804.00,125.08L807.50,135.91L810.50,149.05L817.00,180.54L819.50,191.06L821.50,198.51L824.00,206.84L825.50,210.94L827.50,214.89L829.50,218.06L832.00,221.02L834.50,223.29L836.50,224.79L839.00,226.06L843.00,226.99L849.00,227.74L862.50,228.00L870.00,227.66L876.50,226.87L878.50,226.19L881.00,224.93L882.00,224.18L883.50,222.50L886.00,218.73L887.50,215.86L888.50,213.26L889.50,209.71L890.50,203.09L892.00,188.32L894.80,147.46L896.00,124.16L896.30,122.30L896.50,123.00L897.00,129.61L897.50,139.95L899.50,221.85L899.80,228.00L924.80,228.00" stroke="#000000" stroke-width="2.45" fill="none" stroke-linejoin="round"/>
<path d="M137.8,228.0H390.2M528.8,228.0H586.2M850.3,228.0H867.7M900.6,228.0H924.0" stroke="#000" stroke-width="2.9" fill="none"/>
<path d="M226.50,464.40L227.00,464.40L227.50,464.40L228.00,464.40L228.50,464.40L229.00,464.40L229.50,464.40L230.00,464.40L230.50,464.40L231.00,464.40L231.50,464.40L232.00,464.40L232.50,464.40L233.00,464.40L233.50,464.40L234.00,464.40L234.50,464.40L235.00,464.40L235.50,464.40L236.00,464.40L236.50,464.40L237.00,464.40L237.50,464.40L238.00,464.40L238.50,464.40L239.00,464.40L239.50,464.40L240.00,464.40L240.50,464.40L241.00,464.40L241.50,464.40L242.00,464.40L242.50,464.40L243.00,464.40L243.50,464.40L244.00,464.40L244.50,464.40L245.00,464.40L245.50,464.40L246.00,464.40L246.50,464.40L247.00,464.40L247.50,464.40L248.00,464.40L248.50,464.40L249.00,464.40L249.50,464.40L250.00,464.40L250.50,464.40L251.00,464.40L251.50,464.40L252.00,464.40L252.50,464.40L253.00,464.40L253.50,464.40L254.00,464.40L254.50,464.40L255.00,464.40L255.50,464.40L256.00,464.40L256.50,464.40L257.00,464.40L257.50,464.40L258.00,464.40L258.50,464.40L259.00,464.40L259.50,464.40L260.00,464.40L260.50,464.40L261.00,464.40L261.50,464.40L262.00,464.40L262.50,464.40L263.00,464.40L263.50,464.40L264.00,464.40L264.50,464.40L265.00,464.40L265.50,464.40L266.00,464.40L266.50,464.40L267.00,464.40L267.50,464.40L268.00,464.40L268.50,464.40L269.00,464.40L269.50,464.40L270.00,464.40L270.50,464.40L271.00,464.40L271.50,464.40L272.00,464.40L272.50,464.40L273.00,464.40L273.50,464.40L274.00,464.40L274.50,464.40L275.00,464.40L275.50,464.40L276.00,464.40L276.50,464.40L277.00,464.40L277.50,464.40L278.00,464.40L278.50,464.40L279.00,464.40L279.50,464.40L280.00,464.40L280.50,464.40L281.00,464.40L281.50,464.40L282.00,464.40L282.50,464.40L283.00,464.40L283.50,464.40L284.00,464.40L284.50,464.40L285.00,464.40L285.50,464.40L286.00,464.40L286.50,464.40L287.00,464.40L287.50,464.40L288.00,464.40L288.50,464.40L289.00,464.40L289.50,464.40L290.00,464.40L290.50,464.40L291.00,464.40L291.50,464.40L292.00,464.40L292.50,464.40L293.00,464.40L293.50,464.40L294.00,464.40L294.50,464.40L295.00,464.40L295.50,464.40L296.00,464.40L296.50,464.40L297.00,464.40L297.50,464.40L298.00,464.40L298.50,464.40L299.00,464.40L299.50,464.40L300.00,464.40L300.50,464.40L301.00,464.40L301.50,464.40L302.00,464.40L302.50,464.40L303.00,464.40L303.50,464.40L304.00,464.40L304.50,464.40L305.00,464.40L305.50,464.40L306.00,464.40L306.50,464.40L307.00,464.40L307.50,464.40L308.00,464.40L308.50,464.40L309.00,464.40L309.50,464.40L310.00,464.40L310.50,464.40L311.00,464.40L311.50,464.40L312.00,464.40L312.50,464.40L313.00,464.40L313.50,464.40L314.00,464.40L314.50,464.40L315.00,464.40L315.50,464.40L316.00,464.40L316.50,464.40L317.00,464.40L317.50,464.40L318.00,464.40L318.50,464.40L319.00,464.40L319.50,464.40L320.00,464.40L320.50,464.40L321.00,464.40L321.50,464.40L322.00,464.40L322.50,464.40L323.00,464.40L323.50,464.40L324.00,464.40L324.50,464.40L325.00,464.40L325.50,464.40L326.00,464.40L326.50,464.40L327.00,464.40L327.50,464.40L328.00,464.40L328.50,464.40L329.00,464.40L329.50,464.40L330.00,464.40L330.50,464.40L331.00,464.40L331.50,464.40L332.00,464.40L332.50,464.40L333.00,464.40L333.50,464.40L334.00,464.40L334.50,464.40L335.00,464.40L335.50,464.40L336.00,464.40L336.50,464.40L337.00,464.40L337.50,464.40L338.00,464.40L338.50,464.40L339.00,464.40L339.50,464.40L340.00,464.40L340.50,464.40L341.00,464.40L341.50,464.40L342.00,464.40L342.50,464.40L343.00,464.40L343.50,464.40L344.00,464.40L344.50,464.40L345.00,464.40L345.50,464.40L346.00,464.40L346.50,464.40L347.00,464.40L347.50,464.40L348.00,464.40L348.50,464.40L349.00,464.40L349.50,464.40L350.00,464.40L350.50,464.40L351.00,464.40L351.50,464.40L352.00,464.40L352.50,464.40L353.00,464.40L353.50,464.40L354.00,464.40L354.50,464.40L355.00,464.40L355.50,464.40L356.00,464.40L356.50,464.40L357.00,464.40L357.50,464.40L358.00,464.40L358.50,464.40L359.00,464.40L359.50,464.40L360.00,464.40L360.50,464.40L361.00,464.40L361.50,464.40L362.00,464.40L362.50,464.40L363.00,464.40L363.50,464.40L364.00,464.40L364.50,464.40L365.00,464.40L365.50,464.40L366.00,464.40L366.50,464.40L367.00,464.40L367.50,464.40L368.00,464.40L368.50,464.40L369.00,464.40L369.50,464.40L370.00,464.40L370.50,464.40L371.00,464.40L371.50,464.40L372.00,464.40L372.50,464.40L373.00,464.40L373.50,464.40L374.00,464.40L374.50,464.40L375.00,464.40L375.50,464.40L376.00,464.40L376.50,464.40L377.00,464.40L377.50,464.40L378.00,464.40L378.50,464.40L379.00,464.40L379.50,464.40L380.00,464.40L380.50,464.40L381.00,464.40L381.50,464.40L382.00,464.40L382.50,464.40L383.00,464.40L383.50,464.40L384.00,464.40L384.50,464.40L385.00,464.40L385.50,464.40L386.00,464.40L386.50,464.40L387.00,464.40L387.50,464.40L388.00,464.40L388.50,464.40L389.00,464.40L389.50,464.40L390.00,464.40L390.50,464.40L391.00,464.40L391.50,464.40L392.00,464.40L392.50,464.40L393.00,464.40L393.50,464.40L394.00,464.40L394.50,464.40L395.00,464.40L395.50,464.40L396.00,464.40L396.50,464.40L397.00,464.40L397.50,464.40L398.00,464.40L398.50,464.40L399.00,464.40L399.50,464.40L400.00,464.40L400.50,464.40L401.00,464.40L401.50,464.40L402.00,464.40L402.50,464.40L403.00,464.40L403.50,464.40L404.00,464.40L404.50,464.40L405.00,464.40L405.50,464.40L406.00,464.40L406.50,464.40L407.00,464.40L407.50,464.40L408.00,464.40L408.50,464.40L409.00,464.40L409.50,464.40L410.00,464.40L410.50,464.40L411.00,464.40L411.50,464.40L412.00,464.40L412.50,464.40L413.00,464.40L413.50,464.40L414.00,464.40L414.50,464.40L415.00,464.40L415.50,464.40L416.00,464.40L416.50,464.40L417.00,464.40L417.50,464.40L418.00,464.40L418.50,464.40L419.00,464.40L419.50,464.40L420.00,464.40L420.50,464.40L421.00,464.40L421.50,464.40L422.00,464.40L422.50,464.40L423.00,464.40L423.50,464.40L424.00,464.40L424.50,464.40L425.00,464.40L425.50,464.40L426.00,464.40L426.50,464.40L427.00,464.40L427.50,464.40L428.00,464.40L428.50,464.40L429.00,464.40L429.50,464.40L430.00,464.40L430.50,464.40L431.00,464.40L431.50,464.40L432.00,464.40L432.50,464.40L433.00,464.40L433.50,464.40L434.00,464.40L434.50,464.40L435.00,464.40L435.50,464.40L436.00,464.40L436.50,464.40L437.00,464.40L437.50,464.40L438.00,464.40L438.50,464.40L439.00,464.40L439.50,464.40L440.00,464.40L440.50,464.40L441.00,464.40L441.50,464.40L442.00,464.40L442.50,464.40L443.00,464.40L443.50,464.40L444.00,464.40L444.50,464.40L445.00,464.40L445.50,464.40L446.00,464.40L446.50,464.40L447.00,464.40L447.50,464.40L448.00,464.40L448.50,464.40L449.00,464.40L449.50,464.40L450.00,464.40L450.50,464.40L451.00,464.40L451.50,464.40L452.00,464.40L452.50,464.40L453.00,464.40L453.50,464.40L454.00,464.40L454.50,464.40L455.00,464.40L455.50,464.40L456.00,464.40L456.50,464.40L457.00,464.40L457.50,464.31L458.00,463.92L458.50,463.47L459.00,462.99L459.50,462.51L460.00,462.04L460.50,461.62L461.00,461.26L461.10,461.20L461.50,460.97L462.00,460.69L462.50,460.41L463.00,460.22L463.60,462.37L464.20,457.56L464.80,461.78L465.40,457.94L466.00,458.29L466.60,460.30L467.20,457.69L467.80,458.24L468.40,455.10L469.00,458.98L469.60,457.60L470.20,456.26L470.80,458.67L471.40,455.78L472.00,456.44L472.60,454.45L473.20,455.73L473.80,454.35L474.40,454.38L475.00,456.76L475.60,453.68L476.20,454.00L476.80,455.60L477.40,454.10L478.00,451.31L478.60,448.89L479.20,446.24L479.80,444.71L480.40,448.54L481.00,445.38L481.60,442.60L482.20,444.94L482.80,445.30L483.40,443.87L484.00,445.03L484.60,439.48L485.20,441.50L485.80,440.26L486.40,436.99L487.00,439.02L487.60,438.82L488.20,435.87L488.80,432.43L489.40,434.05L490.00,430.55L490.60,428.93L491.20,428.70L491.80,423.73L492.40,425.89L493.00,423.43L493.60,422.18L494.20,416.81L494.80,417.99L495.40,411.78L496.00,407.84L496.60,408.40L497.20,404.48L497.80,400.85L498.60,393.75L499.20,389.89L499.80,387.51L500.40,384.67L501.00,381.42L501.60,378.72L502.20,375.82L502.80,372.37L503.40,369.04L504.00,365.15L504.60,361.01L505.20,356.26L505.80,352.26L506.40,348.57L507.00,345.19L507.60,341.54L508.20,337.26L508.80,334.56L509.40,330.77L510.00,327.55L510.60,324.59L511.20,321.88L511.80,319.03L512.40,318.05L513.00,316.11L513.60,315.31L514.20,314.40L514.80,313.22L515.40,313.05L516.00,314.13L516.60,314.41L517.20,316.25L517.80,317.92L518.40,319.09L519.00,322.58L519.60,326.51L520.20,331.55L520.80,337.28L521.40,343.76L522.00,351.85L522.60,361.70L523.20,373.07L523.80,382.98L524.40,392.33L525.00,400.99L525.60,409.96L526.20,417.82L526.80,427.18L527.40,435.70L528.00,444.24L528.60,451.30L529.20,456.67L529.80,460.83L530.40,463.78L531.00,464.06L531.60,459.97L532.20,455.68L532.80,449.76L533.40,442.14L534.00,432.59L534.60,421.38L535.20,409.80L535.80,400.90L536.40,391.49L537.00,383.61L537.60,375.58L538.20,367.71L538.80,361.63L539.40,354.80L540.00,348.55L540.60,342.08L541.20,336.29L541.80,330.79L542.40,326.95L543.00,324.17L543.60,321.39L544.20,319.25L544.80,317.75L545.40,316.00L546.00,314.55L546.60,314.05L547.20,313.34L547.80,313.58L548.40,313.37L549.00,314.35L549.60,315.18L550.20,315.67L550.80,316.39L551.40,317.62L552.00,318.11L552.60,319.92L553.20,320.88L553.80,322.43L554.40,324.73L555.00,326.97L555.60,329.71L556.00,331.13L556.60,333.34L557.20,335.47L557.80,340.24L558.40,342.03L559.00,346.72L559.60,348.73L560.20,351.17L560.80,350.49L561.40,354.93L562.00,357.55L562.60,357.71L563.20,361.81L563.80,363.61L564.40,365.56L565.00,370.32L565.60,371.28L566.20,372.51L566.80,376.19L567.40,381.08L568.00,383.44L568.60,383.90L569.20,388.03L569.80,386.04L570.40,393.66L571.00,395.39L571.60,395.69L572.20,390.04L572.80,403.38L573.40,403.69L574.00,403.45L574.60,409.68L575.20,409.30L575.80,409.22L576.40,414.13L577.00,414.89L577.60,413.60L578.20,413.50L578.80,421.30L579.40,416.34L580.00,420.79L580.60,424.21L581.20,424.17L581.80,423.80L582.40,425.57L583.00,428.99L583.60,429.32L584.20,431.97L584.80,423.62L585.40,427.68L586.00,434.18L586.60,432.55L587.20,434.52L587.80,436.59L588.40,436.81L589.00,432.85L589.60,434.72L590.20,434.18L590.80,439.37L591.40,438.53L592.00,441.43L592.60,442.01L593.20,442.60L593.80,443.92L594.40,441.78L595.00,439.95L595.60,443.77L596.20,442.03L596.80,445.87L597.40,442.47L598.00,447.90L598.60,445.96L599.20,448.55L599.80,442.18L600.40,449.99L601.00,448.00L601.60,448.78L602.20,443.41L602.80,449.40L603.40,445.59L604.00,445.15L604.60,450.23L605.20,451.31L605.80,452.02L606.40,442.01L607.00,453.40L607.60,452.22L608.20,454.03L608.80,452.92L609.40,454.08L610.00,451.06L610.60,450.76L611.20,442.73L611.80,450.02L612.40,455.57L613.00,454.31L613.60,456.14L614.20,448.28L614.80,456.62L615.40,453.60L616.00,446.49L616.60,456.16L617.20,454.78L617.80,454.76L618.40,454.79L619.00,456.02L619.60,455.41L620.20,457.32L620.80,456.89L621.40,454.29L622.00,456.70L622.60,452.22L623.20,456.06L623.80,457.35L624.40,457.70L625.00,455.40L625.60,455.99L626.20,456.63L626.80,453.37L627.40,456.19L628.00,455.48L628.60,455.38L629.20,455.59L629.80,449.33L630.40,455.60L631.00,454.42L631.60,455.10L632.20,444.39L632.80,457.90L633.40,456.17L634.00,458.10L634.60,448.76L635.20,457.32L635.80,457.03L636.40,456.03L637.00,455.59L637.60,458.71L638.20,456.79L638.80,456.72L639.40,459.01L640.00,458.50L640.60,459.32L641.20,456.58L641.80,458.17L642.40,457.34L643.00,460.38L643.60,459.55L644.20,454.90L644.80,462.74L645.50,464.04L646.00,464.40L646.50,464.40L647.00,464.40L647.50,464.40L648.00,464.40L648.50,464.40L649.00,464.40L649.50,464.40L650.00,464.40L650.50,464.40L651.00,464.40L651.50,464.40L652.00,464.40L652.50,464.40L653.00,464.40L653.50,464.40L654.00,464.40L654.50,464.40L655.00,464.40L655.50,464.40L656.00,464.40L656.50,464.40L657.00,464.40L657.50,464.40L658.00,464.40L658.50,464.40L659.00,464.40L659.50,464.40L660.00,464.40L660.50,464.40L661.00,464.40L661.50,464.40L662.00,464.40L662.50,464.40L663.00,464.40L663.50,464.40L664.00,464.40L664.50,464.40L665.00,464.40L665.50,464.40L666.00,464.40L666.50,464.40L667.00,464.40L667.50,464.40L668.00,464.40L668.50,464.40L669.00,464.40L669.50,464.40L670.00,464.40L670.50,464.40L671.00,464.40L671.50,464.40L672.00,464.40L672.50,464.40L673.00,464.40L673.50,464.40L674.00,464.40L674.50,464.40L675.00,464.40L675.50,464.40L676.00,464.40L676.50,464.40L677.00,464.40L677.50,464.40L678.00,464.40L678.50,464.40L679.00,464.40L679.50,464.40L680.00,464.40L680.50,464.40L681.00,464.40L681.50,464.40L682.00,464.40L682.50,464.40L683.00,464.40L683.50,464.40L684.00,464.40L684.50,464.40L685.00,464.40L685.50,464.40L686.00,464.40L686.50,464.40L687.00,464.40L687.50,464.40L688.00,464.40L688.50,464.40L689.00,464.40L689.50,464.40L690.00,464.40L690.50,464.40L691.00,464.40L691.50,464.40L692.00,464.40L692.50,464.40L693.00,464.40L693.50,464.40L694.00,464.40L694.50,464.40L695.00,464.40L695.50,464.40L696.00,464.40L696.50,464.40L697.00,464.40L697.50,464.40L698.00,464.40L698.50,464.40L699.00,464.40L699.50,464.40L700.00,464.40L700.50,464.40L701.00,464.40L701.50,464.40L702.00,464.40L702.50,464.40L703.00,464.40L703.50,464.40L704.00,464.40L704.50,464.40L705.00,464.40L705.50,464.40L706.00,464.40L706.50,464.40L707.00,464.40L707.50,464.40L708.00,464.40L708.50,464.40L709.00,464.40L709.50,464.40L710.00,464.40L710.50,464.40L711.00,464.40L711.50,464.40L712.00,464.40L712.50,464.40L713.00,464.40L713.50,464.40L714.00,464.40L714.50,464.40L715.00,464.40L715.50,464.40L716.00,464.40L716.50,464.40L717.00,464.40L717.50,464.40L718.00,464.40L718.50,464.40L719.00,464.40L719.50,464.40L720.00,464.40L720.50,464.40L721.00,464.40L721.50,464.40L722.00,464.40L722.50,464.40L723.00,464.40L723.50,464.40L724.00,464.40L724.50,464.40L725.00,464.40L725.50,464.40L726.00,464.40L726.50,464.40L727.00,464.40L727.50,464.40L728.00,464.40L728.50,464.40L729.00,464.40L729.50,464.40L730.00,464.40L730.50,464.40L731.00,464.40L731.50,464.40L732.00,464.40L732.50,464.40L733.00,464.40L733.50,464.40L734.00,464.40L734.50,464.40L735.00,464.40L735.50,464.40L736.00,464.40L736.50,464.40L737.00,464.40L737.50,464.40L738.00,464.40L738.50,464.40L739.00,464.40L739.50,464.40L740.00,464.40L740.50,464.40L741.00,464.40L741.50,464.40L742.00,464.40L742.50,464.40L743.00,464.40L743.50,464.40L744.00,464.40L744.50,464.40L745.00,464.40L745.50,464.40L746.00,464.40L746.50,464.40L747.00,464.40L747.50,464.40L748.00,464.40L748.50,464.40L749.00,464.40L749.50,464.40L750.00,464.40L750.50,464.40L751.00,464.40L751.50,464.40L752.00,464.40L752.50,464.40L753.00,464.40L753.50,464.40L754.00,464.40L754.50,464.40L755.00,464.40L755.50,464.40L756.00,464.40L756.50,464.40L757.00,464.40L757.50,464.40L758.00,464.40L758.50,464.40L759.00,464.40L759.50,464.40L760.00,464.40L760.50,464.40L761.00,464.40L761.50,464.40L762.00,464.40L762.50,464.40L763.00,464.40L763.50,464.40L764.00,464.40L764.50,464.40L765.00,464.40L765.50,464.40L766.00,464.40L766.50,464.40L767.00,464.40L767.50,464.40L768.00,464.40L768.50,464.40L769.00,464.40L769.50,464.40L770.00,464.40L770.50,464.40L771.00,464.40L771.50,464.40L772.00,464.40L772.50,464.40L773.00,464.40L773.50,464.40L774.00,464.40L774.50,464.40L775.00,464.40L775.50,464.40L776.00,464.40L776.50,464.40L777.00,464.40L777.50,464.40L778.00,464.40L778.50,464.40L779.00,464.40L779.50,464.40L780.00,464.40L780.50,464.40L781.00,464.40L781.50,464.40L782.00,464.40L782.50,464.40L783.00,464.40L783.50,464.40L784.00,464.40L784.50,464.40L785.00,464.40L785.50,464.40L786.00,464.40L786.50,464.40L787.00,464.40L787.50,464.40L788.00,464.40L788.50,464.40L789.00,464.40L789.50,464.40L790.00,464.40L790.50,464.40L791.00,464.40L791.50,464.40L792.00,464.40L792.50,464.40L793.00,464.40L793.50,464.40L794.00,464.40L794.50,464.40L795.00,464.40L795.50,464.40L796.00,464.40L796.50,464.40L797.00,464.40L797.50,464.40L798.00,464.40L798.50,464.40L799.00,464.40L799.50,464.40L800.00,464.40L800.50,464.40L801.00,464.40L801.50,464.40L802.00,464.40L802.50,464.40L803.00,464.40L803.50,464.40L804.00,464.40L804.50,464.40L805.00,464.40L805.50,464.40L806.00,464.40L806.50,464.40L807.00,464.40L807.50,464.40L808.00,464.40L808.50,464.40L809.00,464.40L809.50,464.40L810.00,464.40L810.50,464.40L811.00,464.40L811.50,464.40L812.00,464.40L812.50,464.40L813.00,464.40L813.50,464.40L814.00,464.40L814.50,464.40L815.00,464.40L815.50,464.40L816.00,464.40L816.50,464.40L817.00,464.40L817.50,464.40L818.00,464.40L818.50,464.40L819.00,464.40L819.50,464.40L820.00,464.40L820.50,464.40L821.00,464.40L821.50,464.40L822.00,464.40L822.50,464.40L823.00,464.40L823.50,464.40L824.00,464.40L824.50,464.40L825.00,464.40L825.50,464.40L826.00,464.40L826.50,464.40L827.00,464.40L827.50,464.40L828.00,464.40L828.50,464.40L829.00,464.40L829.50,464.40L830.00,464.40L830.50,464.40L831.00,464.40L831.50,464.40L832.00,464.40L832.50,464.40L833.00,464.40L833.50,464.40L834.00,464.40L834.50,464.40L835.00,464.40L835.50,464.40L836.00,464.40L836.50,464.40L837.00,464.40L837.50,464.40L838.00,464.40L838.50,464.40L839.00,464.40L839.50,464.40L840.00,464.40L840.50,464.40L841.00,464.40L841.50,464.40L842.00,464.40L842.50,464.40L843.00,464.40L843.50,464.40L844.00,464.40L844.50,464.40L845.00,464.40L845.50,464.40L846.00,464.40L846.50,464.40L847.00,464.40L847.50,464.40L848.00,464.40L848.50,464.40L849.00,464.40L849.50,464.40L850.00,464.40L850.50,464.40L851.00,464.40L851.50,464.40L852.00,464.40L852.50,464.40L853.00,464.40L853.50,464.40L854.00,464.40L854.50,464.40L855.00,464.40L855.50,464.40L856.00,464.40L856.50,464.40L857.00,464.40L857.50,464.40L858.00,464.40L858.50,464.40L859.00,464.40L859.50,464.40L860.00,464.40L860.50,464.40L861.00,464.40L861.50,464.40L862.00,464.40L862.50,464.40L863.00,464.40L863.50,464.40L864.00,464.40L864.50,464.40L865.00,464.40L865.50,464.40L866.00,464.40L866.50,464.40L867.00,464.40L867.50,464.40L868.00,464.40L868.50,464.40L869.00,464.40L869.50,464.40L870.00,464.40L870.50,464.40L871.00,464.40L871.50,464.40L872.00,464.40L872.50,464.40L873.00,464.40L873.50,464.40L874.00,464.40L874.50,464.40L875.00,464.40L875.50,464.40L876.00,464.40L876.50,464.40L877.00,464.40L877.50,464.40L878.00,464.40L878.50,464.40L879.00,464.40L879.50,464.40L880.00,464.40L880.50,464.40L881.00,464.40L881.50,464.40L882.00,464.40L882.50,464.40L883.00,464.40L883.50,464.40L884.00,464.40L884.50,464.40L885.00,464.40L885.50,464.40L886.00,464.40L886.50,464.40L887.00,464.40L887.50,464.40L888.00,464.40L888.50,464.40L889.00,464.40L889.50,464.40L890.00,464.40L890.50,464.40L891.00,464.40L891.50,464.40L892.00,464.40L892.50,464.40L893.00,464.40L893.50,464.40L894.00,464.40L894.50,464.40L895.00,464.40L895.50,464.40L896.00,464.40L896.50,464.40L897.00,464.40L897.50,464.40L898.00,464.40L898.50,464.40L899.00,464.40L899.50,464.40L900.00,464.40L900.50,464.40L901.00,464.40L901.50,464.40" stroke="#ff0000" stroke-width="2.5" fill="none" stroke-dasharray="4.6,5.5" stroke-linecap="round" stroke-linejoin="round"/>
<path d="M226.20,464.40L226.60,400.00L226.70,378.92L226.90,347.50L227.20,347.50L227.70,347.50L228.20,347.50L228.70,347.50L229.20,347.50L229.70,347.50L230.20,347.50L230.70,347.50L231.20,347.50L231.70,347.50L231.80,347.50L232.00,345.16L232.40,345.70L232.80,351.17L233.20,344.39L233.60,350.05L234.00,352.01L234.40,347.35L234.80,346.82L235.20,349.87L235.60,354.58L236.00,354.52L236.40,351.27L236.80,354.95L237.20,358.13L237.60,356.40L238.00,359.17L238.40,363.12L238.80,360.89L239.20,358.59L239.60,357.16L240.00,359.37L240.40,361.63L240.80,366.03L241.20,365.46L241.60,361.46L242.00,368.06L242.40,364.05L242.80,366.77L243.20,361.36L243.60,361.75L244.00,363.09L244.40,370.24L244.80,368.50L245.20,370.49L245.60,368.73L246.00,366.64L246.40,368.03L246.80,369.08L247.20,372.04L247.60,368.06L248.00,372.85L248.40,370.30L248.80,372.68L249.20,369.58L249.60,371.72L250.00,368.36L250.40,370.36L250.80,367.43L251.20,366.39L251.60,365.86L252.00,372.56L252.40,370.14L252.80,374.58L253.20,373.94L253.60,369.38L254.00,375.19L254.40,371.26L254.80,372.87L255.20,369.13L255.60,366.84L256.00,366.40L256.40,366.29L256.80,370.29L257.20,365.13L257.60,363.96L258.00,371.83L258.40,364.23L258.80,367.47L259.20,367.58L259.60,368.63L260.00,367.20L260.40,371.27L260.80,369.15L261.20,367.14L261.60,367.33L262.00,365.97L262.40,370.29L262.80,362.65L263.20,367.00L263.60,365.39L264.00,359.97L264.40,362.23L264.80,368.24L265.20,366.52L265.60,358.49L266.00,361.02L266.40,357.84L266.80,365.70L267.20,358.21L267.60,357.35L268.00,366.27L268.40,360.57L268.80,358.96L269.20,355.93L269.60,359.00L270.00,358.41L270.40,359.63L270.80,354.09L271.20,355.13L271.60,355.36L272.00,357.28L272.40,355.50L272.80,358.21L273.20,354.52L273.60,360.35L274.00,360.46L274.40,351.02L274.80,352.10L275.20,355.22L275.60,356.88L276.00,349.39L276.40,350.18L276.80,352.49L277.20,354.20L277.60,356.14L278.00,355.37L278.40,354.24L278.80,346.43L279.20,355.28L279.60,351.27L280.00,345.60L280.40,346.90L280.80,350.17L281.20,347.43L281.60,347.65L282.00,350.84L282.40,350.65L282.80,347.48L283.20,349.55L283.60,345.28L284.00,350.57L284.40,346.47L284.80,349.68L285.20,340.03L285.60,347.99L286.00,344.33L286.40,345.44L286.80,339.78L287.20,342.89L287.60,339.83L288.00,337.53L288.40,336.03L288.80,344.59L289.20,341.74L289.60,336.59L290.00,336.63L290.40,338.21L290.80,341.23L291.20,333.72L291.60,341.72L292.00,340.98L292.40,333.48L292.80,336.94L293.20,333.63L293.60,336.50L294.00,329.90L294.40,333.23L294.80,333.93L295.20,333.82L295.60,334.00L296.00,335.51L296.40,328.52L296.80,327.17L297.20,329.06L297.60,330.37L298.00,333.81L298.40,330.83L298.80,330.64L299.20,332.50L299.60,324.98L300.00,324.42L300.40,325.57L300.80,323.82L301.20,326.89L301.60,329.41L302.00,320.94L302.40,324.10L302.80,325.20L303.20,322.86L303.60,326.57L304.00,324.30L304.40,325.23L304.80,316.97L305.00,317.13L305.50,322.52L306.00,317.22L306.50,316.40L307.00,316.67L307.50,315.22L308.00,317.17L308.50,313.19L309.00,317.30L309.50,316.57L310.00,311.02L310.50,313.89L311.00,310.93L311.50,311.49L312.00,312.10L312.50,312.00L313.00,311.78L313.50,314.25L314.00,309.97L314.50,309.31L315.00,312.00L315.50,313.48L316.00,313.20L316.50,312.85L317.00,307.90L317.50,313.14L318.00,311.52L318.50,313.06L319.00,310.58L319.50,309.82L320.00,313.69L320.50,313.38L321.00,314.60L321.50,311.67L322.00,311.81L322.50,316.18L323.00,312.41L323.50,318.75L324.00,314.76L324.50,318.50L325.00,318.45L325.50,318.98L326.00,319.23L326.50,324.12L327.00,326.21L327.50,326.43L328.00,327.02L328.50,329.20L329.00,329.85L329.50,331.87L330.00,335.98L330.50,334.36L331.00,336.16L331.50,342.68L332.00,344.85L332.50,344.31L333.00,348.59L333.50,350.66L334.00,354.39L334.50,351.77L335.60,360.39L336.20,364.41L336.80,367.93L337.40,370.99L338.00,375.44L338.60,378.77L339.20,382.39L339.80,385.52L340.40,389.89L341.00,394.08L341.60,399.08L342.20,403.40L342.80,408.32L343.40,413.02L344.00,418.16L344.60,423.84L345.20,428.41L345.80,433.68L346.40,437.71L347.00,441.85L347.60,445.32L348.20,449.79L348.80,454.21L349.40,458.61L350.00,461.73L350.60,464.07L351.20,463.47L351.80,461.31L352.40,458.43L353.00,454.52L353.60,450.80L354.20,446.80L354.80,443.88L355.40,441.07L356.00,437.77L356.60,434.42L357.20,431.05L357.80,426.26L358.40,421.30L359.00,415.14L359.60,409.39L360.20,403.16L360.80,396.27L361.40,390.08L362.00,383.55L362.60,377.23L363.20,371.95L363.80,367.62L364.40,362.63L365.00,358.46L365.60,354.18L366.20,350.95L366.80,346.86L367.40,343.04L368.00,339.44L368.60,335.72L369.20,332.79L369.80,329.51L370.40,326.71L371.00,324.65L371.60,322.08L372.20,320.12L372.80,318.71L373.40,317.33L374.00,316.07L374.60,314.97L375.20,313.70L375.80,312.57L376.40,312.29L377.00,311.58L377.60,311.54L378.20,312.00L378.80,311.62L379.40,311.83L380.00,312.57L380.60,313.18L381.20,314.22L381.80,314.82L382.40,315.82L383.00,316.64L383.60,317.49L384.20,319.17L384.80,319.95L385.40,321.35L386.00,323.06L386.60,325.44L387.20,327.26L387.80,329.40L388.40,332.40L389.00,334.83L389.60,338.18L390.20,340.65L390.80,343.15L391.40,345.62L392.00,348.51L392.60,350.80L393.20,353.07L393.80,355.61L394.40,358.93L395.00,361.31L395.60,363.47L396.20,365.36L396.80,368.35L397.40,370.42L398.00,375.38L398.50,377.10L399.00,378.61L399.50,376.09L400.00,376.56L400.50,385.52L401.00,384.90L401.50,382.03L402.00,391.26L402.50,393.73L403.00,389.87L403.50,395.63L404.00,391.12L404.50,395.15L405.00,399.26L405.50,396.97L406.00,398.76L406.50,396.44L407.00,402.91L407.50,401.30L408.00,400.27L408.50,405.55L409.00,408.35L409.50,406.14L410.00,409.23L410.50,412.92L411.00,406.98L411.50,413.37L412.00,418.21L412.50,413.31L413.00,416.03L413.50,420.47L414.00,423.57L414.50,423.82L415.00,425.28L415.50,422.78L416.00,429.72L416.50,427.75L417.00,427.11L417.50,435.45L418.00,434.28L418.50,433.80L419.00,437.15L419.50,436.21L420.00,434.45L420.50,439.31L421.00,441.43L421.50,442.33L422.00,441.66L422.50,445.48L423.00,446.39L423.50,446.56L424.00,443.24L424.50,443.09L425.00,445.84L425.50,447.47L426.00,444.12L426.50,447.89L427.00,447.48L427.50,444.51L428.00,448.35L428.50,448.68L429.00,453.65L429.50,446.82L430.00,454.24L430.50,454.48L431.00,452.41L431.50,449.50L432.00,454.71L432.50,450.04L433.00,451.68L433.50,454.81L434.00,453.24L434.50,453.88L435.00,452.98L435.50,451.22L436.00,454.18L436.50,458.28L437.00,458.69L437.50,453.06L438.00,457.21L438.50,455.98L439.00,456.70L439.50,461.77L440.00,460.69L440.50,458.61L441.00,458.94L441.50,462.53L442.00,458.50L442.50,462.05L443.00,461.92L443.50,462.27L444.00,460.30L444.50,462.42L445.00,463.90L445.50,459.83L446.00,463.83L446.50,461.83L447.00,462.49L447.50,462.16L448.00,461.67L448.50,464.40L449.00,462.22L449.50,460.75L450.00,464.40L450.50,462.94L451.00,464.40L451.50,464.40L452.20,464.32L452.70,464.39L453.00,464.40L453.20,464.40L453.70,464.40L454.20,464.40L454.70,464.40L455.20,464.40L455.70,464.40L456.20,464.40L456.70,464.40L457.20,464.40L457.70,464.40L458.20,464.40L458.70,464.40L459.20,464.40L459.70,464.40L460.20,464.40L460.70,464.40L461.20,464.40L461.70,464.40L462.20,464.40L462.70,464.40L463.20,464.40L463.70,464.40L464.20,464.40L464.70,464.40L465.20,464.40L465.70,464.40L466.20,464.40L466.70,464.40L467.20,464.40L467.70,464.40L468.20,464.40L468.70,464.40L469.20,464.40L469.70,464.40L470.20,464.40L470.70,464.40L471.20,464.40L471.70,464.40L472.20,464.40L472.70,464.40L473.20,464.40L473.70,464.40L474.20,464.40L474.70,464.40L475.20,464.40L475.70,464.40L476.20,464.40L476.70,464.40L477.20,464.40L477.70,464.40L478.20,464.40L478.70,464.40L479.20,464.40L479.70,464.40L480.20,464.40L480.70,464.40L481.20,464.40L481.70,464.40L482.20,464.40L482.70,464.40L483.20,464.40L483.70,464.40L484.20,464.40L484.70,464.40L485.20,464.40L485.70,464.40L486.20,464.40L486.70,464.40L487.20,464.40L487.70,464.40L488.20,464.40L488.70,464.40L489.20,464.40L489.70,464.40L490.20,464.40L490.70,464.40L491.20,464.40L491.70,464.40L492.20,464.40L492.70,464.40L493.20,464.40L493.70,464.40L494.20,464.40L494.70,464.40L495.20,464.40L495.70,464.40L496.20,464.40L496.70,464.40L497.20,464.40L497.70,464.40L498.20,464.40L498.70,464.40L499.20,464.40L499.70,464.40L500.20,464.40L500.70,464.40L501.20,464.40L501.70,464.40L502.20,464.40L502.70,464.40L503.20,464.40L503.70,464.40L504.20,464.40L504.70,464.40L505.20,464.40L505.70,464.40L506.20,464.40L506.70,464.40L507.20,464.40L507.70,464.40L508.20,464.40L508.70,464.40L509.20,464.40L509.70,464.40L510.20,464.40L510.70,464.40L511.20,464.40L511.70,464.40L512.20,464.40L512.70,464.40L513.20,464.40L513.70,464.40L514.20,464.40L514.70,464.40L515.20,464.40L515.70,464.40L516.20,464.40L516.70,464.40L517.20,464.40L517.70,464.40L518.20,464.40L518.70,464.40L519.20,464.40L519.70,464.40L520.20,464.40L520.70,464.40L521.20,464.40L521.70,464.40L522.20,464.40L522.70,464.40L523.20,464.40L523.70,464.40L524.20,464.40L524.70,464.40L525.20,464.40L525.70,464.40L526.20,464.40L526.70,464.40L527.20,464.40L527.70,464.40L528.20,464.40L528.70,464.40L529.20,464.40L529.70,464.40L530.20,464.40L530.70,464.40L531.20,464.40L531.70,464.40L532.20,464.40L532.70,464.40L533.20,464.40L533.70,464.40L534.20,464.40L534.70,464.40L535.20,464.40L535.70,464.40L536.20,464.40L536.70,464.40L537.20,464.40L537.70,464.40L538.20,464.40L538.70,464.40L539.20,464.40L539.70,464.40L540.20,464.40L540.70,464.40L541.20,464.40L541.70,464.40L542.20,464.40L542.70,464.40L543.20,464.40L543.70,464.40L544.20,464.40L544.70,464.40L545.20,464.40L545.70,464.40L546.20,464.40L546.70,464.40L547.20,464.40L547.70,464.40L548.20,464.40L548.70,464.40L549.20,464.40L549.70,464.40L550.20,464.40L550.70,464.40L551.20,464.40L551.70,464.40L552.20,464.40L552.70,464.40L553.20,464.40L553.70,464.40L554.20,464.40L554.70,464.40L555.20,464.40L555.70,464.40L556.20,464.40L556.70,464.40L557.20,464.40L557.70,464.40L558.20,464.40L558.70,464.40L559.20,464.40L559.70,464.40L560.20,464.40L560.70,464.40L561.20,464.40L561.70,464.40L562.00,464.40L562.60,464.22L563.20,463.71L563.80,462.98L564.40,463.08L565.00,461.72L565.60,459.14L566.20,455.41L566.80,450.70L567.40,444.93L568.00,440.36L568.60,435.14L569.20,429.71L569.80,423.68L570.40,417.82L571.00,411.40L571.60,404.78L572.20,397.16L572.80,389.51L573.40,380.47L574.00,371.90L574.60,362.70L575.20,353.77L575.80,345.20L576.40,335.98L577.00,325.72L577.60,317.98L578.20,311.97L578.80,311.78L579.40,320.68L580.00,335.09L580.60,353.91L581.20,380.72L581.80,411.54L582.40,435.90L583.00,457.22L583.60,462.16L584.20,445.30L584.80,420.07L585.40,391.44L586.00,362.02L586.60,340.65L587.20,323.60L587.80,312.80L588.40,311.43L589.00,317.46L589.60,326.28L590.20,336.05L590.80,346.87L591.40,355.83L592.00,366.19L592.60,375.99L593.20,386.71L593.80,396.92L594.40,407.03L595.00,416.76L595.60,427.65L596.20,435.96L596.80,443.14L597.40,450.96L598.00,457.38L598.60,462.70L599.20,464.40L599.80,464.22L600.20,464.40L600.70,464.40L601.20,464.40L601.70,464.40L602.20,464.40L602.70,464.40L603.20,464.40L603.70,464.40L604.20,464.40L604.70,464.40L605.20,464.40L605.70,464.40L606.20,464.40L606.70,464.40L607.20,464.40L607.70,464.40L608.20,464.40L608.70,464.40L609.20,464.40L609.70,464.40L610.20,464.40L610.70,464.40L611.20,464.40L611.70,464.40L612.20,464.40L612.70,464.40L613.20,464.40L613.70,464.40L614.20,464.40L614.70,464.40L615.20,464.40L615.70,464.40L616.20,464.40L616.70,464.40L617.20,464.40L617.70,464.40L618.20,464.40L618.70,464.40L619.20,464.40L619.70,464.40L620.20,464.40L620.70,464.40L621.20,464.40L621.70,464.40L622.20,464.40L622.70,464.40L623.20,464.40L623.70,464.40L624.20,464.40L624.70,464.40L625.20,464.40L625.70,464.40L626.20,464.40L626.70,464.40L627.20,464.40L627.70,464.40L628.20,464.40L628.70,464.40L629.20,464.40L629.70,464.40L630.20,464.40L630.70,464.40L631.20,464.40L631.70,464.40L632.20,464.40L632.70,464.40L633.20,464.40L633.70,464.40L634.20,464.40L634.70,464.40L635.20,464.40L635.70,464.40L636.20,464.40L636.70,464.40L637.20,464.40L637.70,464.40L638.20,464.40L638.70,464.40L639.20,464.40L639.70,464.40L640.20,464.40L640.70,464.40L641.20,464.40L641.70,464.40L642.20,464.40L642.70,464.40L643.20,464.40L643.70,464.40L644.20,464.40L644.70,464.40L645.20,464.40L645.70,464.40L646.20,464.40L646.70,464.40L647.20,464.40L647.70,464.40L648.20,464.40L648.70,464.40L649.20,464.40L649.70,464.40L650.20,464.40L650.70,464.40L651.20,464.40L651.70,464.40L652.20,464.40L652.70,464.40L653.20,464.40L653.70,464.40L654.20,464.40L654.70,464.40L655.20,464.40L655.70,464.40L656.20,464.40L656.70,464.40L657.20,464.40L657.70,464.40L658.20,464.40L658.70,464.40L659.20,464.40L659.70,464.40L660.20,464.40L660.70,464.40L661.20,464.40L661.70,464.40L662.20,464.40L662.70,464.40L663.20,464.40L663.70,464.40L664.20,464.40L664.70,464.40L665.20,464.40L665.70,464.40L666.20,464.40L666.70,464.40L667.20,464.40L667.70,464.40L668.20,464.40L668.70,464.40L669.20,464.40L669.70,464.40L670.20,464.40L670.70,464.40L671.20,464.40L671.70,464.40L672.20,464.40L672.70,464.40L673.20,464.40L673.70,464.40L674.20,464.40L674.70,464.40L675.20,464.40L675.70,464.40L676.20,464.40L676.70,464.40L677.20,464.40L677.70,464.40L678.20,464.40L678.70,464.40L679.20,464.40L679.70,464.40L680.20,464.40L680.70,464.40L681.20,464.40L681.70,464.40L682.20,464.40L682.70,464.40L683.20,464.40L683.70,464.40L684.20,464.40L684.70,464.40L685.20,464.40L685.70,464.40L686.20,464.40L686.70,464.40L687.20,464.40L687.70,464.40L688.00,464.40L688.20,464.38L688.70,464.13L689.20,463.69L689.70,463.10L690.00,464.40L690.45,460.95L690.90,463.26L691.35,464.10L691.80,461.89L692.25,460.84L692.70,462.40L693.15,461.79L693.60,459.49L694.05,460.19L694.50,461.47L694.95,455.56L695.40,460.30L695.85,460.88L696.30,457.87L696.75,458.61L697.20,456.09L697.65,459.43L698.10,461.91L698.55,456.04L699.00,457.20L699.45,460.58L699.90,457.50L700.35,456.19L700.80,458.03L701.25,452.44L701.70,453.23L702.15,459.01L702.60,452.76L703.05,451.41L703.50,458.66L703.95,456.91L704.40,458.49L704.85,456.34L705.30,457.37L705.75,452.14L706.20,455.19L706.65,449.81L707.10,454.91L707.55,453.68L708.00,448.66L708.45,448.11L708.90,447.48L709.35,452.43L709.80,450.61L710.25,446.87L710.70,449.47L711.15,449.18L711.60,448.64L712.05,450.63L712.50,448.76L712.95,444.66L713.40,440.80L713.85,441.67L714.30,439.70L714.75,444.97L715.20,444.32L715.65,438.72L716.10,444.11L716.55,438.04L717.00,438.39L717.45,438.48L717.90,441.07L718.35,439.29L718.80,432.00L719.25,437.31L719.70,430.51L720.15,434.52L720.60,432.38L721.05,426.95L721.50,425.05L721.95,431.30L722.40,422.40L722.85,422.44L723.30,428.19L723.75,424.64L724.20,422.29L724.65,420.09L725.10,419.78L725.55,417.54L726.00,412.87L726.45,412.88L726.90,412.16L727.35,412.23L727.80,409.85L728.25,411.06L728.70,410.16L729.15,408.25L729.60,404.03L730.05,401.81L730.50,397.03L730.95,398.10L731.40,400.01L731.85,394.56L732.30,392.20L732.75,389.30L733.20,391.32L733.65,388.17L734.10,382.25L734.55,381.75L735.00,378.20L735.45,376.69L735.90,375.43L736.35,371.81L736.80,377.40L737.25,372.34L737.70,365.93L738.15,367.28L738.60,364.12L739.05,360.34L739.50,360.10L739.95,359.30L740.40,353.26L740.85,358.33L741.30,352.38L741.75,346.79L742.20,349.87L742.65,350.12L743.10,340.40L743.55,344.13L744.00,343.63L744.45,338.52L744.90,333.93L745.35,337.63L745.80,332.04L746.25,330.03L746.70,331.61L747.15,323.25L747.60,322.95L748.00,322.45L748.60,319.24L749.20,316.78L749.80,314.99L750.40,313.16L751.00,312.06L751.60,312.10L752.20,312.72L752.80,313.49L753.40,314.75L754.00,316.85L754.60,318.46L755.20,320.21L755.80,322.48L756.40,326.08L757.00,328.85L757.60,333.04L758.20,336.27L758.80,340.82L759.40,346.75L760.00,351.65L760.60,357.97L761.20,365.33L761.80,373.02L762.40,380.00L763.00,388.21L763.60,396.91L764.20,405.39L764.80,413.16L765.40,420.40L766.00,426.99L766.60,433.51L767.20,439.54L767.80,446.73L768.40,454.00L769.00,461.12L769.60,464.40L770.20,461.03L770.80,452.72L771.40,444.66L772.00,436.46L772.60,427.96L773.20,419.33L773.80,412.37L774.40,406.65L775.00,399.90L775.60,393.78L776.20,388.03L776.80,382.58L777.40,377.42L778.00,371.24L778.60,366.12L779.20,358.92L779.80,352.80L780.40,346.32L781.00,339.61L781.60,333.46L782.20,327.70L782.80,323.85L783.40,321.10L784.00,319.48L784.60,317.58L785.20,315.66L785.80,314.66L786.40,312.80L787.00,312.06L787.60,312.22L788.20,311.91L788.80,311.45L789.40,312.21L790.00,313.08L790.60,314.41L791.20,315.44L791.80,316.75L792.40,318.32L793.00,320.06L793.60,321.99L794.20,324.00L794.80,325.80L795.40,328.14L796.00,330.89L796.60,334.29L797.20,337.32L797.80,339.86L798.40,343.33L799.00,347.46L799.60,350.59L800.00,355.49L800.50,355.96L801.00,358.25L801.50,362.22L802.00,364.29L802.50,365.68L803.00,367.27L803.50,373.51L804.00,375.41L804.50,373.61L805.00,377.92L805.50,382.56L806.00,385.71L806.50,388.63L807.00,386.69L807.50,392.96L808.00,394.12L808.50,392.67L809.00,395.80L809.50,397.92L810.00,399.46L810.50,405.35L811.00,405.32L811.50,409.83L812.00,408.31L812.50,415.07L813.00,415.87L813.50,418.05L814.00,418.54L814.50,419.10L815.00,418.88L815.50,424.69L816.00,421.18L816.50,424.67L817.00,423.50L817.50,424.65L818.00,429.40L818.50,431.75L819.00,430.36L819.50,433.51L820.00,435.04L820.50,434.20L821.00,436.73L821.50,434.91L822.00,435.11L822.50,436.38L823.00,436.31L823.50,437.71L824.00,442.78L824.50,444.66L825.00,440.53L825.50,445.43L826.00,446.67L826.50,446.97L827.00,446.75L827.50,447.53L828.00,449.64L828.50,447.76L829.00,451.60L829.50,448.99L830.00,448.75L830.50,454.80L831.00,450.37L831.50,451.62L832.00,451.39L832.50,451.72L833.00,453.00L833.50,458.36L834.00,457.57L834.50,456.37L835.00,454.50L835.50,459.94L836.00,458.36L836.50,461.02L837.00,459.35L837.50,457.19L838.00,457.52L838.50,462.14L839.00,459.03L839.50,458.85L840.00,460.66L840.50,460.02L841.00,460.36L841.50,463.70L842.00,462.00L842.50,464.40L843.00,460.22L843.50,461.61L844.00,464.40L844.50,462.86L845.20,463.50L845.70,463.67L846.20,463.82L846.70,463.95L847.20,464.07L847.70,464.18L848.20,464.26L848.70,464.33L849.20,464.37L849.70,464.40L850.00,464.40L850.20,464.40L850.70,464.40L851.20,464.40L851.70,464.40L852.20,464.40L852.70,464.40L853.20,464.40L853.70,464.40L854.20,464.40L854.70,464.40L855.20,464.40L855.70,464.40L856.20,464.40L856.70,464.40L857.20,464.40L857.70,464.40L858.20,464.40L858.70,464.40L859.20,464.40L859.70,464.40L860.20,464.40L860.70,464.40L861.20,464.40L861.70,464.40L862.20,464.40L862.70,464.40L863.20,464.40L863.70,464.40L864.20,464.40L864.70,464.40L865.20,464.40L865.70,464.40L866.20,464.40L866.70,464.40L867.20,464.40L867.70,464.40L868.20,464.40L868.70,464.40L869.20,464.40L869.70,464.40L870.20,464.40L870.70,464.40L871.20,464.40L871.70,464.40L872.20,464.40L872.70,464.40L873.20,464.40L873.70,464.40L874.20,464.40L874.70,464.40L875.20,464.40L875.70,464.40L876.20,464.40L876.70,464.40L877.20,464.40L877.70,464.40L878.20,464.40L878.70,464.40L879.20,464.40L879.70,464.40L880.20,464.40L880.70,464.40L881.20,464.40L881.70,464.40L882.20,464.40L882.70,464.40L883.20,464.40L883.70,464.40L884.20,464.40L884.70,464.40L885.20,464.40L885.70,464.40L886.20,464.40L886.70,464.40L887.20,464.40L887.70,464.40L888.20,464.40L888.70,464.40L889.20,464.40L889.70,464.40L890.20,464.40L890.70,464.40L891.20,464.40L891.70,464.40L892.20,464.40L892.70,464.40L893.20,464.40L893.70,464.40L894.20,464.40L894.70,464.40L895.20,464.40L895.70,464.40L896.20,464.40L896.70,464.40L897.20,464.40L897.70,464.40L898.20,464.40L898.70,464.40L899.20,464.40L899.70,464.40L900.20,464.40L900.70,464.40L901.20,464.40L901.50,464.40" stroke="#0000ff" stroke-width="2.7" fill="none" stroke-dasharray="0.2,4.17" stroke-linecap="round" stroke-linejoin="round"/>
<path d="M226.30,464.40L226.80,397.26L226.90,380.00L227.20,313.90L227.30,314.20L227.80,321.86L228.20,330.00L228.30,331.72L228.80,340.35L229.30,349.62L229.70,358.00L229.80,360.32L230.30,373.72L230.80,388.55L231.20,400.00L231.30,402.74L231.80,416.97L232.30,430.68L232.80,442.00L233.30,452.03L233.80,460.70L234.30,464.40L234.80,461.86L235.30,456.84L235.50,455.00L235.80,452.63L236.00,451.23L236.60,445.55L237.20,438.71L237.80,428.67L238.40,415.41L239.00,403.18L239.60,394.69L240.20,386.52L240.80,379.84L241.40,373.80L242.00,368.68L242.60,363.37L243.20,357.89L243.80,353.42L244.40,349.52L245.00,345.38L245.60,342.15L246.20,339.52L246.80,336.45L247.40,333.60L248.00,331.35L248.60,329.73L249.20,327.42L249.80,325.97L250.40,324.46L251.00,322.18L251.60,321.22L252.20,321.06L252.80,319.74L253.40,319.34L254.00,318.75L254.60,318.51L255.20,317.57L255.80,317.59L256.40,317.36L257.00,316.62L257.60,316.56L258.20,316.45L258.80,315.98L259.40,315.84L260.00,315.60L260.60,315.08L261.20,315.39L261.80,314.73L262.40,315.14L263.00,314.59L263.60,315.04L264.20,315.35L264.80,314.79L265.40,314.58L266.00,314.82L266.60,314.92L267.20,315.11L267.80,314.65L268.40,314.50L269.00,315.34L269.60,314.96L270.20,315.12L270.80,315.47L271.40,315.63L272.00,315.98L272.60,315.74L273.20,315.95L273.80,316.14L274.40,316.92L275.00,317.54L275.60,317.90L276.20,318.61L276.80,319.00L277.40,319.16L278.00,319.33L278.60,320.29L279.20,321.32L279.80,321.93L280.40,322.41L281.00,323.10L281.60,323.99L282.20,324.59L282.80,325.31L283.40,325.94L284.00,326.85L284.60,327.90L285.20,329.28L285.80,330.05L286.40,331.26L287.00,331.96L287.60,333.00L288.20,334.16L288.80,335.15L289.40,335.69L290.00,337.44L290.60,337.81L291.20,339.37L291.80,340.27L292.40,341.49L293.00,343.59L293.60,344.73L294.20,345.81L294.80,347.74L295.40,349.22L296.00,350.26L296.60,352.27L297.20,353.76L297.80,354.55L298.40,356.59L299.00,357.70L299.60,359.48L300.20,361.88L300.80,363.98L301.40,365.53L302.00,367.40L302.60,369.45L303.20,371.72L303.80,374.00L304.40,376.36L305.00,378.24L305.60,380.37L306.20,382.20L306.80,383.79L307.40,386.21L308.00,387.76L308.60,389.52L309.20,391.70L309.80,393.77L310.40,395.66L311.00,397.73L311.60,400.41L312.20,402.36L312.80,404.79L313.40,407.67L314.00,410.25L314.60,412.59L315.20,415.09L315.80,417.64L316.40,420.55L317.00,423.82L317.60,426.72L318.20,430.90L318.80,433.97L319.40,437.93L320.00,442.45L320.60,446.88L321.20,450.87L321.80,455.56L322.40,460.62L323.00,463.85L323.60,463.54L324.20,458.63L324.80,452.91L325.40,445.45L326.00,440.12L326.60,435.74L327.20,430.64L327.80,426.23L328.40,422.65L329.00,418.56L329.60,414.96L330.20,411.74L330.80,408.82L331.40,405.81L332.00,403.37L332.60,401.02L333.20,398.63L333.80,395.67L334.40,393.14L335.00,391.46L335.60,388.78L336.20,387.22L336.80,384.58L337.40,382.42L338.00,380.35L338.60,377.70L339.20,374.34L339.80,371.48L340.40,366.54L341.00,361.84L341.60,357.55L342.20,353.22L342.80,349.53L343.40,345.54L344.00,341.33L344.60,337.31L345.20,334.45L345.80,331.37L346.40,328.45L347.00,326.50L347.60,324.03L348.20,322.08L348.80,320.32L349.40,319.01L350.00,317.83L350.60,317.04L351.20,316.38L351.80,315.06L352.40,314.40L353.00,313.69L353.60,312.48L354.20,311.40L354.80,310.80L355.40,311.19L356.00,310.74L356.60,310.49L357.20,310.89L357.80,310.55L358.40,312.04L359.00,312.73L359.60,313.50L360.20,314.71L360.80,315.76L361.40,316.78L362.00,318.00L362.60,318.83L363.20,321.05L363.80,323.14L364.40,324.53L365.00,326.24L365.60,328.79L366.20,330.61L366.80,332.26L367.40,334.37L368.00,335.84L368.60,338.30L369.20,339.75L369.80,341.80L370.40,342.94L371.00,344.66L371.60,347.18L372.20,348.51L372.80,350.52L373.40,351.45L374.00,353.19L374.60,355.51L375.20,356.44L375.80,358.71L376.40,360.50L377.00,362.87L377.60,365.20L378.20,368.55L378.80,370.69L379.40,373.68L380.00,379.16L380.60,378.81L381.20,384.04L381.80,380.51L382.40,386.02L383.00,386.64L383.60,391.43L384.20,389.46L384.80,395.95L385.40,395.88L386.00,400.22L386.60,399.57L387.20,401.36L387.80,405.73L388.40,409.03L389.00,407.11L389.60,412.90L390.20,414.53L390.80,411.51L391.40,415.94L392.00,418.11L392.60,421.07L393.20,420.66L393.80,418.55L394.40,422.12L395.00,423.28L395.60,424.48L396.20,428.53L396.80,425.74L397.40,426.03L398.00,429.04L398.60,430.90L399.20,433.92L399.80,432.74L400.40,431.81L401.00,437.12L401.60,435.37L402.20,437.58L402.80,437.30L403.40,436.61L404.00,440.58L404.60,441.99L405.20,439.18L405.80,441.79L406.40,442.03L407.00,441.67L407.60,442.83L408.20,448.39L408.80,448.68L409.40,446.24L410.00,449.27L410.60,445.52L411.20,451.80L411.80,450.04L412.40,452.49L413.00,449.64L413.60,450.90L414.20,451.34L414.80,455.95L415.40,453.07L416.00,454.10L416.60,457.59L417.20,457.80L417.80,455.08L418.40,455.03L419.00,458.72L419.60,454.70L420.20,456.96L420.80,460.47L421.40,461.11L422.00,457.08L422.60,456.41L423.20,461.25L423.80,460.48L424.40,458.32L425.00,460.32L425.60,457.82L426.20,462.12L426.80,461.28L427.40,462.67L428.00,458.97L428.60,462.77L429.20,461.24L429.80,462.29L430.40,461.44L431.00,463.55L431.60,463.30L432.20,463.78L432.80,460.39L433.40,461.57L434.00,460.71L434.60,462.81L435.20,463.53L435.80,461.24L436.40,464.40L437.00,463.78L437.60,463.93L438.20,464.40L438.80,464.40L439.40,464.40L440.30,464.19L440.80,464.23L441.30,464.26L441.80,464.30L442.30,464.33L442.80,464.35L443.30,464.37L443.80,464.38L444.30,464.39L444.80,464.40L445.00,464.40L445.30,464.40L445.80,464.40L446.30,464.40L446.80,464.40L447.30,464.40L447.80,464.40L448.30,464.40L448.80,464.40L449.30,464.40L449.80,464.40L450.30,464.40L450.80,464.40L451.30,464.40L451.80,464.40L452.30,464.40L452.80,464.40L453.30,464.40L453.80,464.40L454.30,464.40L454.80,464.40L455.00,464.40L455.30,464.38L455.80,464.29L456.30,464.11L456.80,463.83L457.30,463.46L457.80,463.00L458.30,456.12L458.80,439.71L459.30,418.54L459.80,397.38L460.00,390.00L460.30,378.28L460.80,355.08L461.30,332.34L461.80,315.83L462.20,311.00L462.30,311.51L462.80,326.52L463.30,353.39L463.80,380.00L464.30,407.63L464.80,438.07L465.30,460.02L465.60,464.40L465.80,462.41L466.30,443.84L466.80,415.13L467.30,387.89L467.50,380.00L467.80,369.82L468.30,352.36L468.80,335.90L469.30,322.30L469.80,313.43L470.20,311.00L470.30,311.18L470.80,316.65L471.30,327.71L471.80,341.51L472.30,355.19L472.50,360.00L472.80,367.08L473.30,379.85L473.80,392.98L474.30,405.47L474.80,416.33L475.00,420.00L475.30,425.26L475.80,434.25L476.30,443.03L476.80,451.00L477.30,457.60L477.80,462.24L478.30,464.34L478.40,464.40L478.80,464.40L479.30,464.40L479.80,464.40L480.30,464.40L480.80,464.40L481.30,464.40L481.80,464.40L482.30,464.40L482.80,464.40L483.30,464.40L483.80,464.40L484.30,464.40L484.80,464.40L485.30,464.40L485.80,464.40L486.30,464.40L486.80,464.40L487.30,464.40L487.80,464.40L488.30,464.40L488.80,464.40L489.30,464.40L489.80,464.40L490.30,464.40L490.80,464.40L491.30,464.40L491.80,464.40L492.30,464.40L492.80,464.40L493.30,464.40L493.80,464.40L494.30,464.40L494.80,464.40L495.30,464.40L495.80,464.40L496.30,464.40L496.80,464.40L497.30,464.40L497.80,464.40L498.30,464.40L498.80,464.40L499.30,464.40L499.80,464.40L500.30,464.40L500.80,464.40L501.30,464.40L501.80,464.40L502.30,464.40L502.80,464.40L503.30,464.40L503.80,464.40L504.30,464.40L504.80,464.40L505.30,464.40L505.80,464.40L506.30,464.40L506.80,464.40L507.30,464.40L507.80,464.40L508.30,464.40L508.80,464.40L509.30,464.40L509.80,464.40L510.30,464.40L510.80,464.40L511.30,464.40L511.80,464.40L512.30,464.40L512.80,464.40L513.30,464.40L513.80,464.40L514.30,464.40L514.80,464.40L515.30,464.40L515.80,464.40L516.30,464.40L516.80,464.40L517.30,464.40L517.80,464.40L518.30,464.40L518.80,464.40L519.30,464.40L519.80,464.40L520.30,464.40L520.80,464.40L521.30,464.40L521.80,464.40L522.30,464.40L522.80,464.40L523.30,464.40L523.80,464.40L524.30,464.40L524.80,464.40L525.30,464.40L525.80,464.40L526.30,464.40L526.80,464.40L527.30,464.40L527.80,464.40L528.30,464.40L528.80,464.40L529.30,464.40L529.80,464.40L530.30,464.40L530.80,464.40L531.30,464.40L531.80,464.40L532.30,464.40L532.80,464.40L533.30,464.40L533.80,464.40L534.30,464.40L534.80,464.40L535.30,464.40L535.80,464.40L536.30,464.40L536.80,464.40L537.30,464.40L537.80,464.40L538.30,464.40L538.80,464.40L539.30,464.40L539.80,464.40L540.30,464.40L540.80,464.40L541.30,464.40L541.80,464.40L542.30,464.40L542.80,464.40L543.30,464.40L543.80,464.40L544.30,464.40L544.80,464.40L545.30,464.40L545.80,464.40L546.30,464.40L546.80,464.40L547.30,464.40L547.80,464.40L548.30,464.40L548.80,464.40L549.00,464.40L549.60,464.40L550.20,464.12L550.80,463.08L551.40,462.54L552.00,461.10L552.60,459.76L553.20,458.91L553.80,457.80L554.40,457.07L555.00,456.21L555.60,454.88L556.20,453.87L556.80,452.61L557.40,451.09L558.00,450.40L558.60,448.66L559.20,447.18L559.80,446.27L560.40,445.08L561.00,443.91L561.60,442.85L562.20,441.35L562.80,439.88L563.40,439.32L564.00,437.63L564.60,435.59L565.20,434.01L565.80,432.44L566.40,430.76L567.00,429.20L567.60,426.45L568.20,424.89L568.80,423.06L569.40,420.43L570.00,418.60L570.60,415.84L571.20,413.79L571.80,411.25L572.40,408.76L573.00,405.95L573.60,403.58L574.20,400.36L574.80,397.41L575.40,393.59L576.00,389.96L576.60,386.13L577.20,381.80L577.80,377.31L578.40,372.07L579.00,365.92L579.60,360.66L580.20,356.13L580.80,351.86L581.40,348.15L582.00,344.43L582.60,340.19L583.20,336.68L583.80,333.87L584.40,330.96L585.00,327.48L585.60,324.98L586.20,323.04L586.80,320.27L587.40,318.01L588.00,315.83L588.60,313.76L589.20,312.68L589.80,312.24L590.40,312.76L591.00,314.88L591.60,318.01L592.20,323.72L592.80,328.52L593.40,333.95L594.00,340.14L594.60,346.09L595.20,353.03L595.80,360.79L596.40,368.15L597.00,377.14L597.60,385.03L598.20,392.31L598.80,400.53L599.40,408.92L600.00,416.42L600.60,424.44L601.20,431.78L601.80,438.84L602.40,446.21L603.00,453.87L603.60,459.99L604.20,463.63L604.80,463.53L605.40,459.52L606.00,452.52L606.60,443.83L607.20,434.80L607.80,427.24L608.40,420.94L609.00,415.15L609.60,408.79L610.20,402.74L610.80,396.56L611.40,390.95L612.00,385.48L612.60,380.04L613.20,373.99L613.80,368.83L614.40,362.30L615.00,357.57L615.60,352.96L616.20,348.60L616.80,345.42L617.40,342.55L618.00,339.73L618.60,336.46L619.20,334.47L619.80,332.15L620.40,328.79L621.00,326.49L621.60,324.50L622.20,321.39L622.80,319.00L623.40,317.50L624.00,315.20L624.60,313.09L625.20,312.13L625.80,310.63L626.40,308.96L627.00,307.65L627.60,305.57L628.20,303.28L628.80,299.71L629.40,295.14L630.00,288.91L630.60,283.87L631.20,278.44L631.80,271.44L632.40,265.05L633.00,259.97L633.60,257.43L634.20,265.74L634.80,281.57L635.40,298.09L636.00,311.18L636.60,323.89L637.20,332.41L637.80,333.15L638.40,322.20L639.00,309.67L639.60,298.44L640.20,290.71L640.80,281.95L641.40,276.18L642.00,274.17L642.60,280.91L643.20,295.81L643.80,310.44L644.40,322.78L645.00,333.47L645.60,343.01L646.20,351.75L646.80,357.96L647.40,362.71L648.00,363.08L648.50,366.93L649.00,371.00L649.50,378.30L650.00,374.11L650.50,381.36L651.00,377.66L651.50,380.81L652.00,385.23L652.50,386.43L653.00,390.84L653.50,388.22L654.00,394.15L654.50,395.73L655.00,395.68L655.50,391.71L656.00,399.48L656.50,401.79L657.00,400.19L657.50,398.92L658.00,400.10L658.50,406.69L659.00,401.85L659.50,406.71L660.00,405.13L660.50,407.04L661.00,413.54L661.50,409.00L662.00,413.29L662.50,414.96L663.00,412.10L663.50,411.91L664.00,417.83L664.50,416.19L665.00,415.76L665.50,416.03L666.00,423.09L666.50,421.28L667.00,421.18L667.50,418.83L668.00,426.14L668.50,422.45L669.00,427.05L669.50,428.90L670.00,424.22L670.50,431.28L671.00,431.46L671.50,429.63L672.00,431.64L672.50,428.75L673.00,432.95L673.50,431.22L674.00,430.96L674.50,434.49L675.00,432.53L675.50,435.62L676.00,437.31L676.50,433.15L677.00,433.12L677.50,434.50L678.00,435.79L678.50,438.68L679.00,436.81L679.50,439.31L680.00,442.17L680.50,436.53L681.00,441.18L681.50,439.39L682.00,439.38L682.50,441.33L683.00,437.95L683.50,440.03L684.00,440.21L684.50,443.43L685.00,440.89L685.50,440.01L686.00,440.51L686.50,446.94L687.00,446.78L687.50,448.67L688.00,447.86L688.50,443.42L689.00,449.17L689.50,448.49L690.00,452.36L690.50,447.04L691.00,446.36L691.50,452.91L692.00,450.13L692.50,451.00L693.00,453.45L693.50,449.63L694.00,452.20L694.50,455.42L695.00,454.14L695.50,456.97L696.00,457.00L696.50,452.57L697.00,457.06L697.50,456.09L698.00,452.27L698.50,453.72L699.00,457.95L699.50,458.99L700.00,453.76L700.50,458.45L701.00,455.72L701.50,454.86L702.00,454.47L702.50,454.74L703.00,457.92L703.50,455.40L704.00,459.57L704.50,461.56L705.00,458.56L705.50,460.35L706.00,462.28L706.50,462.37L707.00,458.46L707.50,460.63L708.00,460.05L708.50,457.33L709.00,458.07L709.50,457.23L710.00,458.40L710.50,464.33L711.00,463.95L711.50,463.28L712.00,463.44L712.50,463.97L713.00,458.05L713.50,461.09L714.00,459.34L714.50,457.73L715.00,457.14L715.50,462.82L716.00,460.80L716.50,461.17L717.00,462.43L717.50,456.60L718.00,462.82L718.50,458.59L719.00,457.19L719.50,461.72L720.00,456.08L720.50,460.65L721.00,454.84L721.50,458.10L722.00,458.00L722.50,455.43L723.00,457.37L723.50,459.71L724.00,454.86L724.50,452.49L725.00,454.86L725.50,451.65L726.00,455.72L726.50,455.97L727.00,449.92L727.50,455.84L728.00,454.22L728.50,451.83L729.00,447.81L729.50,448.67L730.00,450.34L730.50,452.63L731.00,445.87L731.50,450.33L732.00,444.02L732.50,447.16L733.00,444.11L733.50,446.92L734.00,440.71L734.50,445.03L735.00,443.03L735.50,443.50L736.00,438.80L736.50,434.96L737.00,437.94L737.50,435.13L738.00,429.87L738.50,430.00L739.00,429.33L739.50,431.79L740.00,432.21L740.50,425.17L741.00,426.20L741.50,426.51L742.40,423.55L743.00,421.90L743.60,419.40L744.20,418.01L744.80,415.79L745.40,414.13L746.00,411.86L746.60,409.75L747.20,408.16L747.80,405.54L748.40,403.28L749.00,401.25L749.60,398.69L750.20,395.97L750.80,393.37L751.40,390.69L752.00,388.98L752.60,385.86L753.20,383.17L753.80,380.44L754.40,377.84L755.00,375.23L755.60,371.63L756.20,368.46L756.80,366.03L757.40,363.17L758.00,359.74L758.60,356.34L759.20,353.36L759.80,350.35L760.40,346.94L761.00,344.47L761.60,341.15L762.20,338.06L762.80,334.61L763.40,332.14L764.00,328.90L764.60,326.31L765.20,324.78L765.80,322.91L766.40,320.96L767.00,319.18L767.60,317.65L768.20,316.69L768.80,314.65L769.40,314.11L770.00,312.96L770.60,312.69L771.20,312.04L771.80,311.48L772.40,312.38L773.00,313.46L773.60,315.81L774.20,319.52L774.80,322.83L775.40,326.26L776.00,330.36L776.60,334.20L777.20,337.53L777.80,342.33L778.40,346.76L779.00,351.80L779.60,356.44L780.20,361.38L780.80,366.51L781.40,371.13L782.00,377.49L782.60,384.92L783.20,393.48L783.80,402.32L784.40,409.72L785.00,417.61L785.60,424.12L786.20,430.30L786.80,436.94L787.40,443.54L788.00,450.34L788.60,454.60L789.20,458.15L789.80,457.61L790.40,454.51L791.00,449.50L791.60,443.72L792.20,438.55L792.80,431.53L793.40,424.74L794.00,417.06L794.60,409.85L795.20,401.86L795.80,394.69L796.40,386.57L797.00,379.32L797.60,371.87L798.20,364.47L798.80,358.10L799.40,351.78L800.00,345.31L800.60,338.43L801.20,331.79L801.80,325.87L802.40,322.26L803.00,320.59L803.60,319.05L804.20,317.20L804.80,316.27L805.40,315.08L806.00,314.09L806.60,313.38L807.20,314.42L807.80,315.10L808.40,316.11L809.00,318.16L809.60,320.82L810.20,323.43L810.80,326.47L811.40,329.69L812.00,332.15L812.60,334.92L813.20,337.94L813.80,341.84L814.40,345.35L815.00,349.08L815.60,353.15L816.20,356.97L816.80,361.24L817.40,364.55L818.00,367.60L818.60,371.56L819.20,374.60L819.80,377.43L820.00,375.83L820.60,379.19L821.20,385.69L821.80,386.25L822.40,391.90L823.00,393.15L823.60,395.07L824.20,400.08L824.80,399.20L825.40,402.52L826.00,405.21L826.60,408.61L827.20,414.31L827.80,416.18L828.40,418.62L829.00,419.68L829.60,417.86L830.20,421.67L830.80,424.94L831.40,429.31L832.00,427.67L832.60,430.61L833.20,434.20L833.80,432.60L834.40,436.78L835.00,437.33L835.60,438.35L836.20,440.44L836.80,440.86L837.40,439.76L838.00,446.00L838.60,447.62L839.20,447.83L839.80,445.79L840.40,448.55L841.00,450.35L841.60,446.70L842.20,452.20L842.80,448.50L843.40,454.75L844.00,451.02L844.60,456.36L845.20,452.38L845.80,455.00L846.40,457.58L847.00,459.28L847.60,458.21L848.20,459.75L848.80,457.62L849.40,460.56L850.00,458.80L850.60,462.79L851.20,462.18L851.80,459.93L852.40,462.65L853.00,458.14L853.60,463.72L854.20,462.31L854.80,460.05L855.40,462.17L856.00,463.11L856.60,462.18L857.20,463.89L857.80,460.94L858.40,460.38L859.00,460.76L859.60,460.24L860.30,461.69L860.80,461.72L861.30,461.75L861.80,461.78L862.30,461.81L862.80,461.84L863.30,461.86L863.80,461.88L864.30,461.90L864.80,461.92L865.30,461.94L865.80,461.95L866.30,461.96L866.80,461.97L867.30,461.98L867.80,461.99L868.30,462.00L868.80,462.00L869.30,462.00L869.50,462.00L869.80,461.98L870.00,462.23L870.60,462.14L871.20,461.28L871.80,461.53L872.40,460.95L873.00,460.03L873.60,459.59L874.20,459.82L874.80,458.94L875.40,459.09L876.00,458.52L876.60,458.33L877.20,457.52L877.80,457.45L878.40,455.98L879.00,456.06L879.60,455.05L880.20,454.41L880.80,453.53L881.40,452.32L882.00,450.24L882.60,448.75L883.20,446.94L883.80,444.25L884.40,441.87L885.00,440.33L885.60,437.34L886.20,434.54L886.80,431.61L887.40,429.05L888.00,425.33L888.60,422.00L889.20,417.99L889.80,413.69L890.40,408.09L891.00,403.07L891.60,398.76L892.20,393.53L892.80,388.33L893.40,382.64L894.00,376.97L894.60,371.94L895.20,367.66L895.80,363.06L896.40,357.78L897.00,353.10L897.60,348.67L898.20,344.61L898.80,341.45L899.40,340.06L900.30,339.70L900.80,339.70L901.30,339.70L901.80,339.70L901.90,339.70L902.30,464.40" stroke="#00ffff" stroke-width="2.5" fill="none" stroke-dasharray="8.7,5.2,1.5,5.3" stroke-linecap="round" stroke-linejoin="round"/>
<path d="M137.00,464.40L137.50,464.40L138.00,464.40L138.50,464.40L139.00,464.40L139.50,464.40L140.00,464.40L140.50,464.40L141.00,464.40L141.50,464.40L142.00,464.40L142.50,464.40L143.00,464.40L143.50,464.40L144.00,464.40L144.50,464.40L145.00,464.40L145.50,464.40L146.00,464.40L146.50,464.40L147.00,464.40L147.50,464.40L148.00,464.40L148.50,464.40L149.00,464.40L149.50,464.40L150.00,464.40L150.50,464.40L151.00,464.40L151.50,464.40L152.00,464.40L152.50,464.40L153.00,464.40L153.50,464.40L154.00,464.40L154.50,464.40L155.00,464.40L155.50,464.40L156.00,464.40L156.50,464.40L157.00,464.40L157.50,464.40L158.00,464.40L158.50,464.40L159.00,464.40L159.50,464.40L160.00,464.40L160.50,464.40L161.00,464.40L161.50,464.40L162.00,464.40L162.50,464.40L163.00,464.40L163.50,464.40L164.00,464.40L164.50,464.40L165.00,464.40L165.50,464.40L166.00,464.40L166.50,464.40L167.00,464.40L167.50,464.40L168.00,464.40L168.50,464.40L169.00,464.40L169.50,464.40L170.00,464.40L170.50,464.40L171.00,464.40L171.50,464.40L172.00,464.40L172.50,464.40L173.00,464.40L173.50,464.40L174.00,464.40L174.50,464.40L175.00,464.40L175.50,464.40L176.00,464.40L176.50,464.40L177.00,464.40L177.50,464.40L178.00,464.40L178.50,464.40L179.00,464.40L179.50,464.40L180.00,464.40L180.50,464.40L181.00,464.40L181.50,464.40L182.00,464.40L182.50,464.40L183.00,464.40L183.50,464.40L184.00,464.40L184.50,464.40L185.00,464.40L185.50,464.40L186.00,464.40L186.50,464.40L187.00,464.40L187.50,464.40L188.00,464.40L188.50,464.40L189.00,464.40L189.50,464.40L190.00,464.40L190.50,464.40L191.00,464.40L191.50,464.40L192.00,464.40L192.50,464.40L193.00,464.40L193.50,464.40L194.00,464.40L194.50,464.40L195.00,464.40L195.50,464.40L196.00,464.40L196.50,464.40L197.00,464.40L197.50,464.40L198.00,464.40L198.50,464.40L199.00,464.40L199.50,464.40L200.00,464.40L200.50,464.40L201.00,464.40L201.50,464.40L202.00,464.40L202.50,464.40L203.00,464.40L203.50,464.40L204.00,464.40L204.50,464.40L205.00,464.40L205.50,464.40L206.00,464.40L206.50,464.40L207.00,464.40L207.50,464.40L208.00,464.40L208.50,464.40L209.00,464.40L209.50,464.40L210.00,464.40L210.50,464.40L211.00,464.40L211.50,464.40L212.00,464.40L212.50,464.40L213.00,464.40L213.50,464.40L214.00,464.40L214.50,464.40L215.00,464.40L215.50,464.40L216.00,464.40L216.50,464.40L217.00,464.40L217.50,464.40L218.00,464.40L218.50,464.40L219.00,464.40L219.50,464.40L220.00,464.40L220.50,464.40L221.00,464.40L221.50,464.40L222.00,464.40L222.50,464.40L223.00,464.40L223.50,464.40L224.00,464.40L224.50,464.40L225.00,464.40L225.50,464.40L226.00,464.40L226.50,464.40L227.00,464.40L227.50,464.40L228.00,464.40L228.50,464.40L229.00,464.40L229.50,464.40L230.00,464.40L230.50,464.40L231.00,464.40L231.50,464.40L232.00,464.40L232.50,464.40L233.00,464.40L233.50,464.40L234.00,464.40L234.50,464.40L235.00,464.40L235.50,464.40L236.00,464.40L236.50,464.40L237.00,464.40L237.50,464.40L238.00,464.40L238.50,464.40L239.00,464.40L239.50,464.40L240.00,464.40L240.50,464.40L241.00,464.40L241.50,464.40L242.00,464.40L242.50,464.40L243.00,464.40L255.90,464.40L256.80,460.40L257.70,464.40L260.10,464.40L261.00,462.40L261.90,464.40L264.00,464.40L264.90,458.90L265.80,464.40L267.50,464.40L268.40,454.40L269.30,464.40L272.70,464.40L273.60,452.90L274.50,464.40L279.10,464.40L280.00,459.90L280.90,464.40L282.10,464.40L283.00,462.40L283.90,464.40L288.90,464.40L289.80,453.90L290.70,464.40L293.10,464.40L294.00,462.40L294.90,464.40L297.00,464.40L297.90,459.40L298.80,464.40L301.60,464.40L302.50,455.90L303.40,464.40L307.40,464.40L308.30,455.90L309.20,464.40L313.80,464.40L314.70,461.40L315.60,464.40L317.10,464.40L318.00,462.90L318.90,464.40L320.70,464.40L321.60,454.40L322.50,464.40L327.10,464.40L328.00,462.90L328.90,464.40L333.10,464.40L334.00,462.90L334.90,464.40L339.80,464.40L340.70,461.90L341.60,464.40L343.10,464.40L344.00,462.40L344.90,464.40L345.00,463.63L345.00,464.40L345.60,464.40L346.20,455.09L346.80,463.12L347.40,463.61L348.00,459.52L348.60,462.43L349.20,460.01L349.80,462.63L350.40,464.40L351.00,461.49L351.60,461.79L352.20,462.59L352.80,462.05L353.40,460.50L354.00,459.73L354.60,446.95L355.20,458.66L355.80,460.63L356.40,460.51L357.00,452.95L357.60,461.65L358.20,458.59L358.80,458.84L359.40,459.13L360.00,460.77L360.60,451.56L361.20,457.75L361.80,457.37L362.40,458.46L363.00,448.09L363.60,458.07L364.20,454.53L364.80,442.71L365.40,455.77L366.00,449.63L366.60,454.59L367.20,443.20L367.80,445.32L368.40,450.84L369.00,455.95L369.60,452.09L370.20,456.11L370.80,453.20L371.40,455.21L372.00,454.54L372.60,454.05L373.20,453.45L373.80,443.76L374.40,454.72L375.00,454.14L375.60,455.06L376.20,453.29L376.80,453.35L377.40,454.20L378.00,445.96L378.60,451.55L379.20,451.79L379.80,450.08L380.40,453.56L381.00,453.06L381.60,449.70L382.20,452.84L382.80,448.12L383.40,440.21L384.00,440.12L384.60,444.37L385.20,450.25L385.80,447.05L386.40,449.76L387.00,449.71L387.60,443.97L388.20,444.95L388.80,446.44L389.40,446.76L390.00,440.14L390.60,444.11L391.20,437.51L391.80,444.15L392.00,446.02L392.60,445.97L393.20,443.11L393.80,440.59L394.40,438.06L395.00,438.92L395.60,438.02L396.20,434.86L396.80,433.95L397.40,438.74L398.00,435.77L398.60,432.37L399.20,432.68L399.80,434.99L400.40,433.59L401.00,432.28L401.60,428.53L402.20,428.03L402.80,427.95L403.40,422.99L404.00,424.61L404.60,421.46L405.20,423.60L405.80,417.15L406.40,419.22L407.00,418.71L407.60,413.16L408.20,415.46L408.80,413.59L409.40,406.73L410.00,409.08L410.60,402.99L411.20,404.11L411.80,401.77L412.40,398.39L413.00,397.10L413.60,397.94L414.20,392.94L414.80,389.82L415.40,390.89L416.00,387.07L416.60,386.81L417.20,381.10L417.80,379.35L418.40,380.11L419.00,376.43L419.60,374.75L420.20,371.53L420.80,368.56L421.40,372.28L422.00,365.32L422.60,367.94L423.20,363.05L423.80,364.42L424.40,358.83L425.00,359.62L425.60,354.50L426.20,349.41L426.80,349.12L427.40,345.56L428.00,342.67L428.60,338.48L429.20,334.21L429.80,333.99L430.50,330.08L431.00,328.00L431.50,325.94L432.00,323.86L432.50,321.85L433.00,319.98L433.50,318.34L434.00,317.00L434.50,315.82L435.00,314.65L435.50,313.57L436.00,312.66L436.50,311.98L437.00,311.63L437.20,311.60L437.50,311.66L438.00,312.03L438.50,312.68L439.00,313.56L439.50,314.61L440.00,315.77L440.50,317.00L441.00,318.52L441.50,320.55L442.00,322.99L442.50,325.76L443.00,328.77L443.50,331.92L443.70,333.20L444.00,335.25L444.50,339.14L445.00,343.48L445.50,348.12L446.00,352.89L446.50,357.63L446.90,361.30L447.00,362.23L447.50,367.68L448.00,373.71L448.50,379.30L449.00,383.40L449.50,385.00L450.00,378.62L450.50,363.96L451.00,347.72L451.30,340.00L451.50,335.55L452.00,323.51L452.50,312.97L453.00,307.48L453.10,307.30L453.50,322.94L454.00,366.06L454.30,390.00L454.50,404.58L455.00,444.35L455.50,464.40L456.00,445.90L456.50,409.13L456.80,390.00L457.00,379.41L457.50,352.63L458.00,332.46L458.10,330.00L458.50,321.83L459.00,313.52L459.50,308.86L459.70,308.40L460.00,309.83L460.50,316.91L461.00,326.58L461.50,335.00L462.00,342.40L462.50,349.77L463.00,354.41L463.20,354.90L463.50,354.44L464.00,351.96L464.50,348.01L465.00,343.36L465.50,338.76L466.00,335.00L466.50,331.79L467.00,328.48L467.50,325.21L468.00,322.17L468.50,319.50L469.00,317.39L469.50,316.00L470.00,315.05L470.50,314.16L471.00,313.35L471.50,312.64L472.00,312.04L472.50,311.56L473.00,311.22L473.50,311.03L473.80,311.00L474.00,311.04L474.50,311.49L475.00,312.37L475.50,313.57L476.00,315.03L476.50,316.65L477.00,318.34L477.50,320.02L478.00,321.60L478.50,323.15L479.00,324.79L479.50,326.54L480.00,328.42L480.50,330.43L480.80,331.70L481.00,332.60L481.50,335.14L482.00,337.94L482.50,340.87L483.00,343.77L483.50,346.49L483.70,347.50L484.00,348.94L484.50,351.23L485.00,353.42L485.50,355.58L486.00,357.73L486.50,359.95L486.60,360.40L487.00,362.25L487.50,364.61L488.00,356.49L488.60,369.82L489.20,366.08L489.80,373.98L490.40,371.81L491.00,370.05L491.60,382.44L492.20,384.66L492.80,373.86L493.40,374.90L494.00,393.09L494.60,396.48L495.20,395.30L495.80,401.22L496.40,395.80L497.00,405.56L497.60,407.55L498.20,408.98L498.80,407.25L499.40,404.21L500.00,408.19L500.60,410.84L501.20,418.76L501.80,418.78L502.40,423.73L503.00,423.17L503.60,425.14L504.20,424.72L504.80,417.95L505.40,429.89L506.00,429.92L506.60,434.04L507.20,436.35L507.80,435.29L508.40,436.68L509.00,432.62L509.60,432.49L510.20,441.85L510.80,437.20L511.40,444.49L512.00,441.77L512.60,444.92L513.20,446.91L513.80,446.02L514.40,443.11L515.00,447.71L515.60,445.13L516.20,448.28L516.80,450.54L517.40,449.60L518.00,443.86L518.60,453.88L519.20,451.50L519.80,446.46L520.40,455.69L521.00,455.78L521.60,441.81L522.20,452.30L522.80,452.86L523.40,456.71L524.00,449.49L524.60,454.84L525.20,453.65L525.80,456.27L526.40,454.79L527.00,455.80L527.60,453.44L528.20,458.19L528.80,458.59L529.40,457.09L530.00,455.88L530.60,459.15L531.20,457.98L531.80,457.41L532.40,459.73L533.00,458.28L533.60,460.73L534.20,458.27L534.80,454.01L535.40,461.42L536.00,456.02L536.60,453.89L537.20,461.15L537.80,458.75L538.40,453.96L539.00,461.26L539.60,459.93L540.20,451.21L540.80,460.57L541.40,461.99L542.00,454.49L542.60,456.40L543.20,460.66L543.80,460.94L544.40,461.18L545.00,462.32L545.60,457.54L546.20,463.44L546.80,459.67L547.40,460.62L548.00,449.19L548.60,454.94L549.20,460.76L549.80,459.07L550.40,461.84L551.00,462.86L551.60,461.62L552.20,461.08L552.80,462.78L553.40,449.22L554.00,464.39L554.60,462.33L555.20,462.50L555.80,462.88L556.40,464.40L557.00,463.30L557.60,464.17L558.20,462.62L558.80,464.40L559.40,464.23L560.00,457.81L560.60,464.02L561.20,460.17L561.80,459.66L562.50,463.36L563.00,463.39L563.50,463.42L564.00,463.44L564.50,463.47L565.00,463.50L565.50,463.53L566.00,463.56L566.50,463.59L567.00,463.62L567.50,463.65L568.00,463.68L568.50,463.71L569.00,463.74L569.50,463.77L570.00,463.81L570.50,463.84L571.00,463.87L571.50,463.90L572.00,463.93L572.50,463.96L573.00,463.99L573.50,464.02L574.00,464.05L574.50,464.08L575.00,464.11L575.50,464.14L576.00,464.16L576.50,464.19L577.00,464.21L577.50,464.24L578.00,464.26L578.50,464.28L579.00,464.30L579.50,464.32L580.00,464.33L580.50,464.35L581.00,464.36L581.50,464.37L582.00,464.38L582.50,464.39L583.00,464.40L583.50,464.40L584.00,464.40L584.50,464.27L585.00,463.89L585.50,463.29L586.00,462.50L586.50,461.55L587.00,460.46L587.50,459.27L588.00,458.00L588.50,456.38L589.00,454.15L589.50,451.34L590.00,448.02L590.50,444.23L591.00,440.00L591.50,434.58L592.00,427.46L592.50,419.04L593.00,409.75L593.50,400.00L594.00,388.81L594.50,375.84L595.00,362.44L595.50,350.00L596.00,336.79L596.50,322.93L597.00,312.51L597.40,309.40L597.50,309.78L598.00,320.85L598.50,340.60L599.00,360.00L599.50,377.21L600.00,395.08L600.50,411.58L600.80,420.00L601.00,425.35L601.50,439.25L602.00,450.10L602.40,453.40L602.50,452.82L603.00,436.13L603.50,407.03L604.00,380.00L604.50,355.64L605.00,330.47L605.50,312.86L605.80,309.40L606.00,309.85L606.50,314.35L607.00,322.12L607.50,331.30L608.00,340.00L608.50,348.73L609.00,358.61L609.50,368.62L610.00,377.75L610.50,385.00L611.00,391.08L611.50,397.13L612.00,402.77L612.50,407.62L613.00,411.30L613.50,413.43L613.80,413.80L614.00,413.72L614.50,412.93L615.00,411.41L615.50,409.32L616.00,406.82L616.50,404.07L617.00,401.25L617.50,398.50L618.00,396.00L618.50,393.62L619.00,391.14L619.50,388.59L620.00,385.98L620.50,383.34L621.00,380.69L621.50,378.05L621.70,377.00L622.00,375.42L622.50,372.77L623.00,370.10L623.50,367.41L624.00,364.71L624.50,362.03L625.00,359.37L625.50,356.74L625.70,355.70L626.00,354.13L626.50,351.49L627.00,348.83L627.50,346.18L628.00,343.59L628.50,341.08L629.00,338.68L629.50,336.43L629.60,336.00L630.00,334.29L630.50,332.14L631.00,330.03L631.50,328.00L632.00,326.09L632.50,324.34L633.00,322.81L633.50,321.52L633.60,321.30L634.00,320.43L634.50,319.35L635.00,318.30L635.50,317.29L636.00,316.35L636.50,315.51L637.00,314.77L637.50,314.17L638.00,313.73L638.50,313.47L638.90,313.40L639.00,313.41L639.50,313.69L640.00,314.36L640.50,315.36L641.00,316.67L641.50,318.24L642.00,320.04L642.50,322.03L643.00,324.16L643.50,326.41L644.00,328.73L644.10,329.20L644.50,331.43L645.00,335.04L645.50,339.35L646.00,344.10L646.50,349.04L646.80,352.00L647.00,354.01L647.50,359.47L648.00,365.35L648.50,371.41L649.00,377.41L649.40,382.00L649.50,383.11L650.00,388.68L650.50,394.20L651.00,399.63L651.50,404.91L652.00,410.00L652.50,414.72L653.00,419.09L653.50,423.39L654.00,427.86L654.50,432.76L654.70,434.90L655.00,438.86L655.50,447.33L656.00,456.02L656.50,462.48L656.90,464.40L657.00,464.33L657.50,462.28L658.00,458.05L658.50,452.65L659.00,447.05L659.30,444.00L659.50,442.08L660.00,437.07L660.50,431.79L661.00,426.32L661.50,420.73L661.60,419.60L662.00,415.00L662.50,409.04L663.00,402.93L663.50,396.76L664.00,390.63L664.30,387.00L664.50,384.56L665.00,378.20L665.50,371.73L666.00,365.47L666.50,359.72L667.00,354.80L667.50,350.63L668.00,346.85L668.50,343.40L669.00,340.20L669.50,337.18L669.70,336.00L670.00,334.24L670.50,331.31L671.00,328.50L671.50,325.95L672.00,323.78L672.40,322.40L672.50,322.10L673.00,320.62L673.50,319.17L674.00,317.78L674.50,316.45L675.00,315.20L675.50,314.07L676.00,313.05L676.50,312.18L677.00,311.48L677.50,310.95L678.00,310.61L678.50,310.50L679.00,310.70L679.50,311.27L680.00,312.14L680.50,313.25L681.00,314.52L681.50,315.90L682.00,317.32L682.50,318.70L683.00,320.00L683.50,321.26L684.00,322.59L684.50,323.97L685.00,325.41L685.50,326.89L686.00,330.94L686.50,332.80L687.00,329.44L687.50,331.15L688.00,334.82L688.50,338.55L689.00,339.99L689.50,343.69L690.00,338.89L690.50,344.01L691.00,344.76L691.50,348.65L692.00,346.27L692.50,350.42L693.00,350.37L693.50,359.05L694.00,358.07L694.50,359.37L695.00,364.86L695.50,362.08L696.00,364.37L696.50,366.83L697.00,365.03L697.50,366.49L698.00,370.32L698.50,374.12L699.00,375.72L699.50,374.28L700.00,376.93L700.50,382.05L701.00,380.38L701.50,383.00L702.00,383.59L702.50,389.14L703.00,386.75L703.50,390.47L704.00,389.57L704.50,394.90L705.00,395.02L705.50,392.38L706.00,398.89L706.50,401.22L707.00,401.66L707.50,398.65L708.00,402.40L708.50,407.37L709.00,407.55L709.50,408.68L710.00,404.04L710.50,405.93L711.00,411.10L711.50,409.41L712.00,409.81L712.50,414.30L713.00,417.91L713.50,413.91L714.00,419.46L714.50,419.36L715.00,419.96L715.50,416.58L716.00,422.36L716.50,421.35L717.00,421.36L717.50,423.85L718.00,428.17L718.50,425.65L719.00,426.60L719.50,425.17L720.00,425.33L720.50,430.36L721.00,429.55L721.50,430.59L722.00,433.19L722.50,433.79L723.00,430.42L723.50,437.96L724.00,437.43L724.50,432.91L725.00,436.18L725.50,436.91L726.00,440.67L726.50,441.44L727.00,441.23L727.50,440.40L728.00,444.65L728.50,443.40L729.00,440.91L729.50,445.64L730.00,447.40L730.50,446.17L731.00,445.57L731.50,447.87L732.00,447.27L732.50,446.14L733.00,449.22L733.50,449.23L734.00,447.70L734.50,447.52L735.00,444.65L735.50,446.86L736.00,444.03L736.50,442.09L737.00,438.74L737.50,438.17L738.30,430.40L738.50,428.27L739.00,419.46L739.50,407.21L740.00,393.42L740.50,380.00L741.00,365.97L741.50,350.72L742.00,336.74L742.30,330.00L742.50,325.92L743.00,315.77L743.50,309.12L743.70,308.40L744.00,317.77L744.50,357.06L744.80,380.00L745.00,394.04L745.50,431.57L745.90,445.50L746.00,444.51L746.50,417.85L747.00,380.00L747.50,337.22L748.00,310.50L748.50,321.59L749.00,345.90L749.50,370.00L750.00,391.80L750.50,412.19L750.80,420.00L751.00,423.47L751.50,431.12L752.00,435.99L752.30,436.90L752.50,436.86L753.00,437.42L753.60,433.28L754.20,436.18L754.80,433.60L755.40,431.42L756.00,428.78L756.60,429.08L757.20,426.60L757.80,426.17L758.40,423.23L759.00,420.67L759.60,421.54L760.20,421.12L760.80,415.79L761.40,417.44L762.00,416.13L762.60,411.34L763.20,408.56L763.80,406.75L764.40,406.37L765.00,402.33L765.60,400.92L766.20,397.77L766.80,394.39L767.40,393.43L768.00,391.22L768.60,387.14L769.20,385.95L769.80,383.51L770.40,380.64L771.00,378.11L771.60,373.05L772.20,370.69L772.80,369.50L773.40,362.49L774.00,361.45L774.60,359.23L775.20,354.31L775.80,352.15L776.40,349.85L777.00,346.74L777.60,343.12L778.20,339.35L778.80,338.95L779.40,334.32L780.50,328.50L780.60,328.00L781.00,325.98L781.50,323.47L782.00,321.07L782.50,318.89L782.70,318.10L783.00,316.90L783.50,314.78L784.00,312.79L784.50,311.26L785.00,310.52L785.10,310.50L785.50,310.83L786.00,312.03L786.50,313.92L787.00,316.27L787.50,318.87L788.00,321.50L788.30,323.00L788.50,323.98L789.00,326.55L789.50,329.32L790.00,332.32L790.50,335.61L791.00,339.21L791.50,343.16L791.60,344.00L792.00,347.80L792.50,353.48L793.00,359.77L793.50,366.23L793.80,370.00L794.00,372.48L794.50,378.89L795.00,385.43L795.50,391.89L796.00,398.10L796.50,404.02L797.00,409.78L797.50,415.42L798.00,420.98L798.50,426.49L799.00,432.00L799.50,438.23L800.00,445.31L800.50,452.34L801.00,458.45L801.50,462.77L802.00,464.40L802.50,462.66L803.00,458.08L803.50,451.64L804.00,444.32L804.50,437.08L804.90,432.00L805.00,430.86L805.50,425.24L806.00,419.65L806.50,413.99L807.00,408.14L807.50,401.99L807.80,398.10L808.00,395.39L808.50,388.11L809.00,380.41L809.50,372.59L810.00,365.00L810.50,357.12L811.00,348.87L811.50,341.19L812.00,335.03L812.20,333.20L812.50,330.89L813.00,327.47L813.50,324.53L814.00,322.01L814.50,319.85L815.00,318.00L815.50,316.25L816.00,314.53L816.50,312.96L817.00,311.68L817.50,310.82L818.00,310.50L818.50,310.83L819.00,311.71L819.50,313.01L820.00,314.59L820.50,316.30L821.00,318.00L821.50,319.86L822.00,322.07L822.50,324.55L823.00,327.20L823.50,329.94L824.00,332.66L824.10,333.20L824.50,335.38L825.00,338.20L825.50,341.12L826.00,344.10L826.50,347.13L827.00,350.17L827.30,352.00L827.50,353.23L828.00,356.36L828.50,359.56L829.00,362.78L829.50,365.99L830.00,369.14L830.50,372.20L831.00,375.16L831.50,378.05L832.00,380.90L832.50,383.71L833.00,386.51L833.50,389.31L833.80,391.00L834.00,392.13L834.50,395.01L835.00,397.91L835.50,400.79L836.00,406.93L836.50,403.43L837.00,411.98L837.50,409.54L838.00,411.23L838.50,418.41L839.00,415.24L839.50,418.74L840.00,418.97L840.50,426.50L841.00,424.49L841.50,432.23L842.00,430.84L842.50,435.59L843.00,432.16L843.50,435.14L844.00,437.74L844.50,438.61L845.00,446.20L845.50,442.89L846.00,442.98L846.50,445.15L847.00,447.15L847.50,449.92L848.00,447.58L848.50,448.98L849.00,448.99L849.50,450.40L850.00,450.91L850.50,452.91L851.00,454.58L851.50,450.97L852.00,452.85L852.50,452.25L853.00,455.92L853.50,457.33L854.00,458.64L854.50,457.53L855.00,456.40L855.50,460.05L856.00,462.45L856.50,459.95L857.00,463.26L857.50,461.66L858.00,461.65L858.50,462.94L859.00,462.78L859.50,463.06L860.00,459.21L860.50,458.25L861.00,457.56L861.50,462.15L862.00,458.54L862.50,460.41L863.00,460.47L863.50,461.28L864.00,457.29L864.50,462.18L865.00,460.87L865.50,457.58L866.00,458.76L866.50,459.55L867.00,460.46L867.50,457.29L868.00,456.90L868.50,456.07L869.00,457.46L869.50,460.21L870.00,453.72L870.50,458.28L871.00,457.75L871.50,455.15L872.00,455.94L872.50,449.69L873.00,447.85L873.50,447.77L874.00,448.37L874.50,447.20L875.00,441.48L875.50,442.36L876.00,441.16L876.50,434.69L877.00,436.78L877.50,430.80L878.00,428.45L878.50,431.01L879.00,429.76L879.50,421.92L880.00,422.47L880.50,422.11L881.00,412.59L881.50,410.33L882.00,408.21L882.50,401.61L883.00,401.59L883.50,397.19L884.50,390.77L885.00,387.08L885.50,383.25L886.00,379.22L886.50,374.93L886.80,372.20L887.00,370.25L887.50,364.81L888.00,358.94L888.50,353.19L888.80,350.00L889.00,348.02L889.50,343.37L890.00,338.87L890.50,334.19L890.60,333.20L891.00,328.39L891.50,321.29L892.00,315.01L892.50,311.71L892.60,311.60L893.00,318.03L893.50,339.15L894.00,366.22L894.50,390.00L895.00,411.79L895.50,434.93L896.00,453.31L896.50,460.80L897.00,434.22L897.50,390.00L898.00,346.11L898.50,313.92L898.60,312.70L899.00,357.66L899.20,390.00L899.50,444.85L899.70,464.40L900.00,464.40L900.50,464.40L901.00,464.40L901.50,464.40L902.00,464.40L902.50,464.40L903.00,464.40L903.50,464.40L904.00,464.40L904.50,464.40L905.00,464.40L905.50,464.40L906.00,464.40L906.50,464.40L907.00,464.40L907.50,464.40L908.00,464.40L908.50,464.40L909.00,464.40L909.50,464.40L910.00,464.40L910.50,464.40L911.00,464.40L911.50,464.40L912.00,464.40L912.50,464.40L913.00,464.40L913.50,464.40L914.00,464.40L914.50,464.40L915.00,464.40L915.50,464.40L916.00,464.40L916.50,464.40L917.00,464.40L917.50,464.40L918.00,464.40L918.50,464.40L919.00,464.40L919.50,464.40L920.00,464.40L920.50,464.40L921.00,464.40L921.50,464.40L922.00,464.40L922.50,464.40L923.00,464.40L923.50,464.40L924.00,464.40L924.50,464.40L924.80,464.40" stroke="#000000" stroke-width="2.45" fill="none" stroke-linejoin="round"/>
<path d="M137.8,464.4H255.1M258.5,464.4H259.3M262.7,464.4H263.2M266.6,464.4H266.7M270.1,464.4H271.9M275.3,464.4H278.3M284.7,464.4H288.1M291.5,464.4H292.3M295.7,464.4H296.2M299.6,464.4H300.8M304.2,464.4H306.6M310.0,464.4H313.0M316.4,464.4H316.3M319.7,464.4H319.9M323.3,464.4H326.3M329.7,464.4H332.3M335.7,464.4H339.0M342.4,464.4H342.3M577.8,464.4H583.7M900.5,464.4H924.0" stroke="#000" stroke-width="2.9" fill="none"/>
<path d="M137.00,704.40L385.00,704.34L397.00,703.86L405.50,702.76L409.00,701.98L412.00,701.03L414.50,700.00L417.00,698.58L421.50,695.05L424.00,692.61L425.50,690.79L428.50,686.07L432.50,678.18L435.50,670.53L439.00,659.67L442.00,648.10L445.00,634.41L449.50,610.68L450.80,601.00L453.00,567.91L454.60,530.27L456.20,498.63L458.75,549.30L462.00,590.79L464.00,608.58L466.00,623.02L468.50,637.21L471.00,648.84L473.50,658.72L476.00,666.38L479.00,673.93L482.50,680.96L488.00,689.00L490.00,691.45L492.50,694.04L495.00,696.38L497.50,698.35L499.50,699.54L502.50,700.95L506.50,702.43L510.00,703.16L518.50,703.84L528.50,704.18L543.00,704.40L581.50,704.39L588.00,704.06L590.50,703.53L591.50,703.03L592.00,702.39L593.00,700.36L594.00,697.58L594.50,695.50L595.50,688.89L597.00,675.99L599.00,651.50L601.50,603.35L601.80,601.00L602.00,601.85L602.50,609.21L604.20,640.29L606.00,666.20L607.50,682.89L609.00,693.22L609.50,695.40L610.50,697.78L612.00,700.24L613.00,701.12L614.50,701.40L616.00,701.14L620.00,699.17L622.50,697.16L625.50,694.15L627.50,691.76L629.00,689.60L631.50,684.71L635.00,675.81L637.50,668.56L639.50,661.70L646.00,635.95L652.00,610.22L652.75,608.03L655.00,602.86L656.00,601.41L656.80,601.00L657.50,601.38L658.00,602.07L659.00,604.22L663.00,615.73L666.50,627.92L671.50,648.10L673.50,654.26L679.50,669.71L682.00,675.18L685.40,681.45L690.00,688.24L693.50,692.02L698.00,695.69L704.00,699.16L708.50,701.08L713.00,702.06L720.00,702.91L729.50,703.75L735.50,704.06L738.00,704.01L739.50,702.93L740.00,702.33L740.50,701.08L741.50,696.07L742.50,686.80L743.50,670.48L745.50,609.94L746.00,601.00L746.50,609.83L748.50,671.42L749.50,690.02L750.00,695.97L751.00,700.34L752.00,702.55L752.50,702.85L756.50,702.42L761.50,701.25L765.00,699.80L767.00,698.54L769.50,696.28L773.00,692.45L775.50,689.09L778.00,685.10L780.50,680.30L782.50,675.73L784.00,671.83L785.50,667.19L788.50,655.87L798.00,611.82L800.50,603.27L801.50,601.29L802.00,601.00L802.50,601.20L803.00,601.76L804.00,603.72L807.50,614.32L810.50,627.17L817.00,657.97L819.50,668.27L821.50,675.55L824.00,683.70L825.50,687.71L827.50,691.57L829.50,694.68L832.00,697.58L834.50,699.79L836.50,701.26L839.00,702.50L843.00,703.41L849.00,704.15L862.50,704.40L870.00,704.07L876.50,703.29L878.50,702.63L881.00,701.40L882.00,700.66L883.50,699.02L886.00,695.33L887.50,692.52L888.50,689.98L889.50,686.51L890.50,680.03L892.00,665.59L894.80,625.61L896.00,602.82L896.30,601.00L896.50,601.69L897.00,608.15L897.50,618.27L899.50,698.39L899.80,704.40L924.80,704.40" stroke="#000000" stroke-width="2.45" fill="none" stroke-linejoin="round"/>
<path d="M137.00,704.40L447.00,704.40L448.00,704.23L449.60,703.30L450.00,702.45L451.00,696.76L452.00,687.90L453.50,662.10L455.50,605.68L455.80,602.30L456.00,602.85L456.50,608.20L459.00,658.35L460.50,684.71L461.10,691.00L462.50,698.58L463.50,702.21L464.00,703.33L464.50,703.92L467.00,704.28L470.00,704.40L612.50,704.40L613.00,701.12L614.00,701.37L615.50,701.28L619.00,699.75L621.50,698.04L625.00,694.68L627.00,692.41L629.00,689.60L631.50,684.71L636.00,673.04L639.00,663.57L646.00,635.95L652.00,610.22L652.75,608.03L655.00,602.86L656.00,601.41L656.80,601.00L657.50,601.38L658.00,602.07L659.00,604.22L663.00,615.73L666.50,627.92L671.50,648.10L673.50,654.26L679.50,669.71L682.00,675.18L685.40,681.45L690.00,688.24L693.50,692.02L698.00,695.69L704.00,699.16L708.50,701.08L712.50,701.98L718.50,702.76L728.50,703.69L737.50,704.09L738.50,703.78L739.50,702.93L740.00,702.33L740.50,701.08L741.50,696.07L742.50,686.80L743.50,670.48L745.50,609.94L746.00,601.00L746.50,609.83L748.50,671.42L749.50,690.02L750.00,695.97L751.00,700.34L752.00,702.55L752.50,702.85L753.50,702.82L754.00,704.40L867.50,704.40L868.00,704.21L873.50,703.74L876.50,703.29L879.00,702.42L881.50,701.07L882.50,700.18L884.00,698.35L887.00,693.56L888.00,691.34L889.00,688.40L890.00,683.70L891.00,675.76L892.00,665.59L894.80,625.61L896.00,602.82L896.30,601.00L896.50,601.69L897.00,608.15L897.50,618.27L899.50,698.39L899.80,704.40L924.80,704.40" stroke="#00ffff" stroke-width="2.7" fill="none" stroke-dasharray="0.2,4.17" stroke-linecap="round" stroke-linejoin="round"/>
<path d="M137.00,704.40L461.00,704.40L473.50,704.04L487.00,703.19L491.00,702.62L494.50,701.34L498.50,699.19L500.50,697.61L503.00,694.84L504.50,692.72L505.50,690.76L511.00,677.46L513.00,672.00L514.50,667.21L518.00,653.93L521.50,637.52L527.50,606.77L528.00,605.50L529.00,603.99L530.00,602.91L531.00,602.50L532.00,602.96L533.00,604.19L534.80,607.50L535.50,609.45L542.00,639.21L547.50,661.98L550.50,672.38L552.00,676.82L553.50,680.50L555.50,684.44L558.00,688.49L561.00,692.31L564.00,695.49L566.50,697.49L569.00,698.89L572.00,700.24L575.50,701.38L582.00,702.62L591.00,703.62L596.00,703.80L602.50,703.54L604.50,703.12L606.50,701.90L607.50,700.92L608.50,698.98L610.50,693.61L611.50,690.14L612.00,687.60L612.50,683.11L616.50,620.02L618.00,607.54L618.50,604.99L619.00,604.00L619.50,606.93L620.00,614.29L623.00,668.80L624.00,682.23L625.00,690.69L626.00,696.00L628.00,701.86L629.00,703.46L629.50,703.78L634.00,704.23L639.50,704.40L770.50,704.35L777.00,704.18L779.00,703.95L786.50,702.25L790.50,701.00L793.00,699.85L795.00,698.62L796.80,697.20L798.00,695.86L799.50,693.59L802.00,689.16L805.50,681.22L809.00,670.36L813.50,653.52L815.50,644.74L821.00,617.26L822.50,610.77L823.20,608.80L825.00,605.24L826.00,603.93L826.90,603.50L827.50,603.68L828.00,604.09L829.50,606.49L831.50,611.57L833.50,617.80L835.00,625.13L843.50,672.20L845.00,679.35L847.00,687.32L848.50,692.29L849.40,694.40L851.50,697.91L853.50,700.34L855.50,701.78L859.00,703.35L861.50,703.94L865.50,704.26L870.00,704.40L924.80,704.40" stroke="#ff0000" stroke-width="2.5" fill="none" stroke-dasharray="4.6,5.5" stroke-linecap="round" stroke-linejoin="round"/>
<polygon points="602.10,592.30 604.33,598.03 610.47,598.38 605.71,602.27 607.27,608.22 602.10,604.90 596.93,608.22 598.49,602.27 593.73,598.38 599.87,598.03" fill="#ff00ff"/>
<polygon points="618.70,592.30 620.93,598.03 627.07,598.38 622.31,602.27 623.87,608.22 618.70,604.90 613.53,608.22 615.09,602.27 610.33,598.38 616.47,598.03" fill="#ff00ff"/>
<polygon points="656.90,592.30 659.13,598.03 665.27,598.38 660.51,602.27 662.07,608.22 656.90,604.90 651.73,608.22 653.29,602.27 648.53,598.38 654.67,598.03" fill="#ff00ff"/>
<polygon points="746.10,592.30 748.33,598.03 754.47,598.38 749.71,602.27 751.27,608.22 746.10,604.90 740.93,608.22 742.49,602.27 737.73,598.38 743.87,598.03" fill="#ff00ff"/>
<polygon points="802.20,592.30 804.43,598.03 810.57,598.38 805.81,602.27 807.37,608.22 802.20,604.90 797.03,608.22 798.59,602.27 793.83,598.38 799.97,598.03" fill="#ff00ff"/>
<polygon points="827.20,592.30 829.43,598.03 835.57,598.38 830.81,602.27 832.37,608.22 827.20,604.90 822.03,608.22 823.59,602.27 818.83,598.38 824.97,598.03" fill="#ff00ff"/>
<rect x="137.0" y="6.0" width="787.8" height="713.8" fill="none" stroke="#000" stroke-width="2.2"/>
<line x1="137.0" y1="244.1" x2="924.8" y2="244.1" stroke="#000" stroke-width="2.2"/>
<line x1="137.0" y1="482.0" x2="924.8" y2="482.0" stroke="#000" stroke-width="2.2"/>
<path d="M137.0,6.0v12M137.0,244.1v-12M137.0,244.1v12M137.0,482.0v-12M137.0,482.0v12M137.0,719.8v-12M235.5,6.0v6M235.5,244.1v-6M235.5,244.1v6M235.5,482.0v-6M235.5,482.0v6M235.5,719.8v-6M333.9,6.0v12M333.9,244.1v-12M333.9,244.1v12M333.9,482.0v-12M333.9,482.0v12M333.9,719.8v-12M432.4,6.0v6M432.4,244.1v-6M432.4,244.1v6M432.4,482.0v-6M432.4,482.0v6M432.4,719.8v-6M530.9,6.0v12M530.9,244.1v-12M530.9,244.1v12M530.9,482.0v-12M530.9,482.0v12M530.9,719.8v-12M629.4,6.0v6M629.4,244.1v-6M629.4,244.1v6M629.4,482.0v-6M629.4,482.0v6M629.4,719.8v-6M727.8,6.0v12M727.8,244.1v-12M727.8,244.1v12M727.8,482.0v-12M727.8,482.0v12M727.8,719.8v-12M826.3,6.0v6M826.3,244.1v-6M826.3,244.1v6M826.3,482.0v-6M826.3,482.0v6M826.3,719.8v-6M924.8,6.0v12M924.8,244.1v-12M924.8,244.1v12M924.8,482.0v-12M924.8,482.0v12M924.8,719.8v-12M137.0,228.0h12M924.8,228.0h-12M137.0,122.3h12M924.8,122.3h-12M137.0,16.6h12M924.8,16.6h-12M137.0,175.2h6M924.8,175.2h-6M137.0,69.4h6M924.8,69.4h-6M137.0,464.4h12M924.8,464.4h-12M137.0,354.2h12M924.8,354.2h-12M137.0,310.1h12M924.8,310.1h-12M137.0,704.4h12M924.8,704.4h-12M137.0,601.0h12M924.8,601.0h-12M137.0,497.6h12M924.8,497.6h-12M137.0,652.7h6M924.8,652.7h-6M137.0,549.3h6M924.8,549.3h-6" stroke="#000" stroke-width="1.6" fill="none"/>
<text x="123.5" y="241.3" text-anchor="end" font-size="45">0</text>
<text x="123.5" y="135.6" text-anchor="end" font-size="45">1</text>
<text x="123.5" y="29.9" text-anchor="end" font-size="45">2</text>
<text x="123.5" y="477.7" text-anchor="end" font-size="45">0</text>
<text x="123.5" y="367.5" text-anchor="end" font-size="45">0.2</text>
<text x="123.5" y="323.4" text-anchor="end" font-size="45">0.28</text>
<text x="123.5" y="717.7" text-anchor="end" font-size="45">0</text>
<text x="123.5" y="614.3" text-anchor="end" font-size="45">1</text>
<text x="123.5" y="510.9" text-anchor="end" font-size="45">2</text>
<text x="137.0" y="767.5" text-anchor="middle" font-size="45">-1.2</text>
<text x="333.9" y="767.5" text-anchor="middle" font-size="45">-0.6</text>
<text x="530.9" y="767.5" text-anchor="middle" font-size="45">0.0</text>
<text x="727.8" y="767.5" text-anchor="middle" font-size="45">0.6</text>
<text x="924.8" y="767.5" text-anchor="middle" font-size="45">1.2</text>
<text x="529.5" y="823.6" text-anchor="middle" font-size="45"><tspan font-style="italic">E</tspan> (<tspan font-style="italic">t</tspan>)</text>
<text x="152" y="45.8" font-size="45">(a)</text>
<text x="152.6" y="283.4" font-size="45">(b)</text>
<text x="152.6" y="521.8" font-size="45">(c)</text>
<g transform="translate(40.5,209.4) rotate(-90)">
<path d="M10.8,-30.9L0.3,-11.7L10.8,7.5M46.8,-30.9L57.0,-11.7L46.8,7.5" fill="none" stroke="#000" stroke-width="2.3"/>
<text x="13.1" y="0" font-size="45" font-style="italic">G</text>
<text x="67.6" y="0" font-size="45"><tspan>(2e</tspan><tspan font-size="32" dy="-18">2</tspan><tspan dy="18">/h)</tspan></text>
</g>
<g transform="translate(38.6,443.0) rotate(-90)">
<text x="-1.3" y="0" font-size="45" font-style="italic">δ</text>
<text x="16" y="0" font-size="45" font-style="italic">G</text>
<text x="61.6" y="0" font-size="44"><tspan>(2e</tspan><tspan font-size="31.3" dy="-17.6">2</tspan><tspan dy="17.6">/h)</tspan></text>
</g>
<g transform="translate(40.5,685.8) rotate(-90)">
<path d="M10.8,-30.9L0.3,-11.7L10.8,7.5M46.8,-30.9L57.0,-11.7L46.8,7.5" fill="none" stroke="#000" stroke-width="2.3"/>
<text x="13.1" y="0" font-size="45" font-style="italic">G</text>
<text x="67.6" y="0" font-size="45"><tspan>(2e</tspan><tspan font-size="32" dy="-18">2</tspan><tspan dy="18">/h)</tspan></text>
</g>
<line x1="521.4" y1="30.5" x2="578" y2="30.5" stroke="#ff0000" stroke-width="2.5" fill="none" stroke-dasharray="4.6,5.5" stroke-linecap="round" stroke-linejoin="round"/>
<text x="599.5" y="45.2" font-size="45"><tspan font-style="italic">N</tspan><tspan dx="-1.4">=</tspan>2</text>
<line x1="521.4" y1="84.6" x2="578" y2="84.6" stroke="#00ffff" stroke-width="2.5" fill="none" stroke-dasharray="8.7,5.2,1.5,5.3" stroke-linecap="round" stroke-linejoin="round"/>
<text x="599.5" y="99.6" font-size="45"><tspan font-style="italic">N</tspan><tspan dx="-1.4">=</tspan>2<tspan dx="-1.5">8</tspan></text>
<line x1="728.4" y1="30.5" x2="787" y2="30.5" stroke="#0000ff" stroke-width="2.7" fill="none" stroke-dasharray="0.2,4.17" stroke-linecap="round" stroke-linejoin="round"/>
<text x="806.5" y="45.2" font-size="45"><tspan font-style="italic">N</tspan><tspan dx="-1.4">=</tspan>1<tspan dx="-1.5">5</tspan></text>
<line x1="728.4" y1="84.5" x2="786.8" y2="84.5" stroke="#000000" stroke-width="2.45" fill="none" stroke-linejoin="round" stroke-linecap="round"/>
<text x="806.5" y="99.6" font-size="45"><tspan font-style="italic">N</tspan><tspan dx="-1.4">=</tspan>3<tspan dx="-1.5">3</tspan></text>
<line x1="153.2" y1="560.4" x2="211.4" y2="560.4" stroke="#000000" stroke-width="2.45" fill="none" stroke-linejoin="round" stroke-linecap="round"/>
<text x="231.3" y="574.7" font-size="45"><tspan font-style="italic">N</tspan><tspan dx="-1.4">=</tspan>3<tspan dx="-1.5">3</tspan></text>
<line x1="153.3" y1="614.0" x2="209" y2="614.0" stroke="#ff0000" stroke-width="2.5" fill="none" stroke-dasharray="4.6,5.5" stroke-linecap="round" stroke-linejoin="round"/>
<text x="231.3" y="628.4" font-size="45"><tspan font-style="italic">N</tspan><tspan dx="-1.4">=</tspan>1<tspan dx="-1.5">7</tspan></text>
<line x1="152.7" y1="668.2" x2="211" y2="668.2" stroke="#00ffff" stroke-width="2.7" fill="none" stroke-dasharray="0.2,4.17" stroke-linecap="round" stroke-linejoin="round"/>
<text x="231.3" y="682.1" font-size="45"><tspan font-style="italic">N</tspan><tspan dx="-1.4">=</tspan>1<tspan dx="-1.5">6</tspan></text>
</svg>
</body></html>
